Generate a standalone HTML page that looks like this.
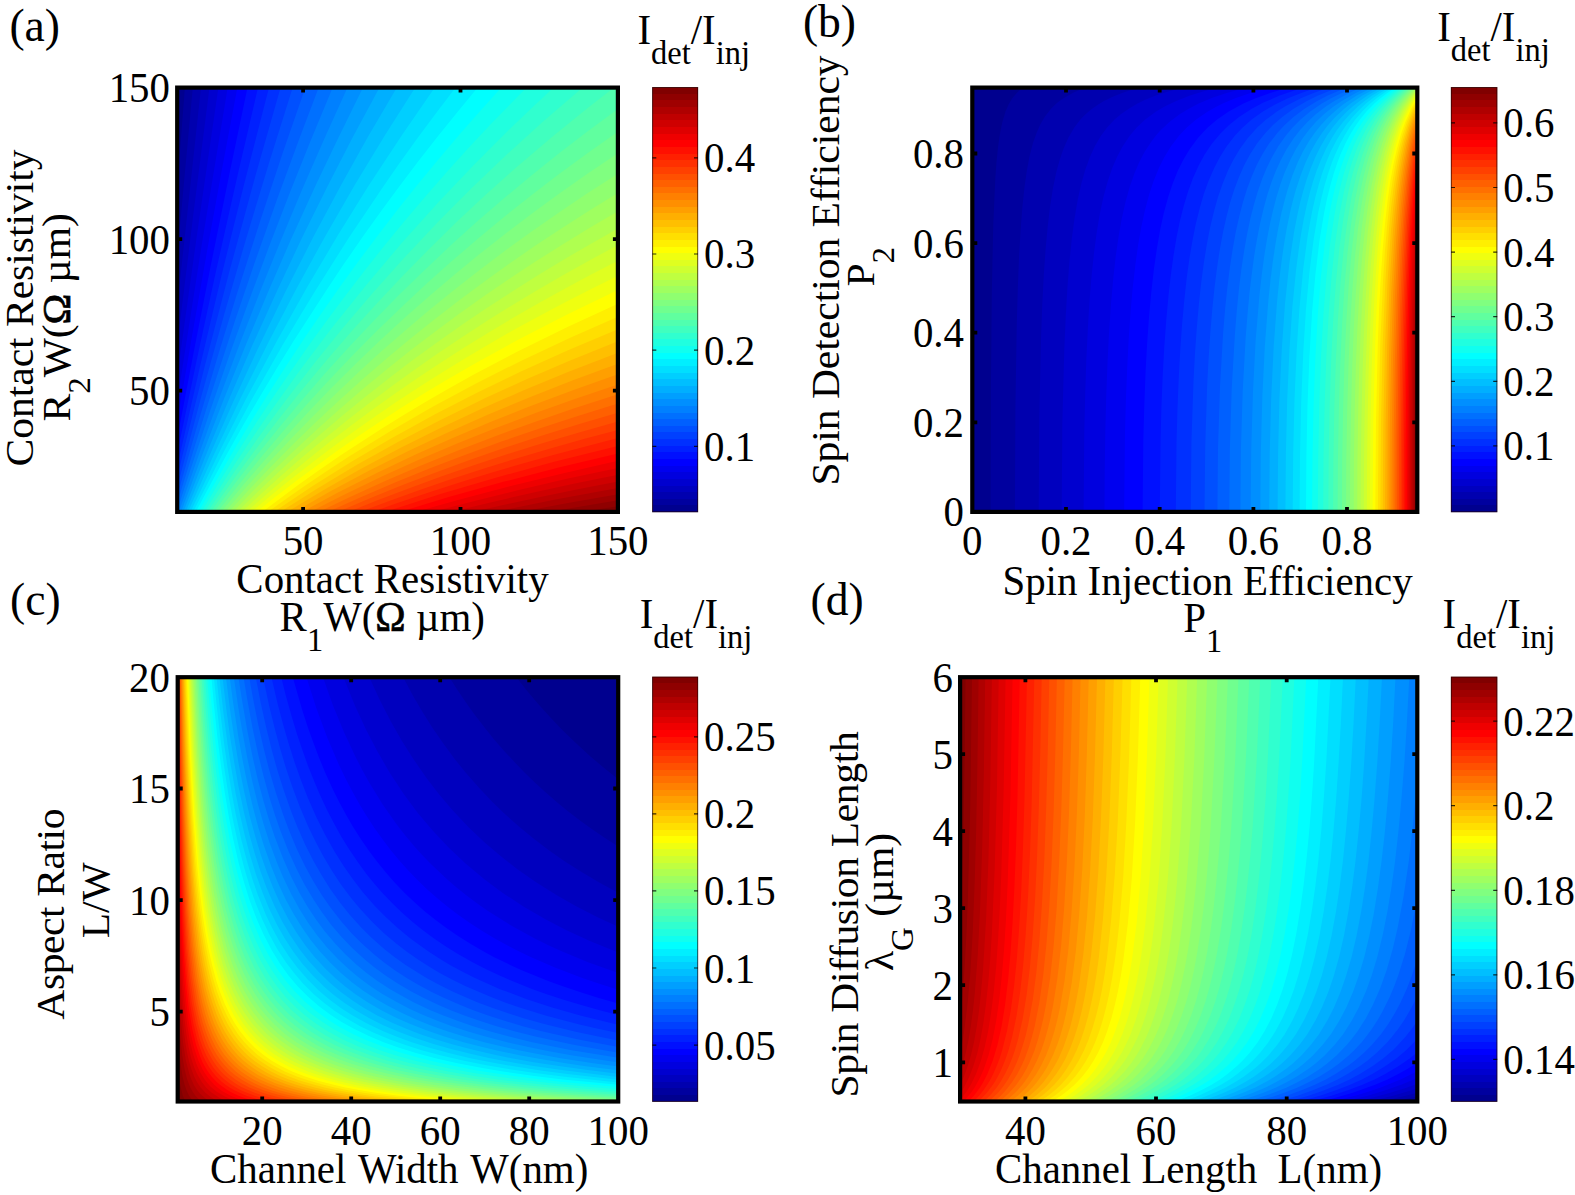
<!DOCTYPE html>
<html><head><meta charset="utf-8"><title>Figure</title>
<style>html,body{margin:0;padding:0;background:#fff}svg{display:block;font-family:"Liberation Serif","DejaVu Serif",serif}</style>
</head><body>
<svg width="1575" height="1195" viewBox="0 0 1575 1195" fill="#000">
<rect width="1575" height="1195" fill="#fff"/>
<defs><linearGradient id="jet" x1="0" y1="0" x2="0" y2="1"><stop offset="0.00000" stop-color="#800000"/><stop offset="0.01562" stop-color="#800000"/><stop offset="0.01562" stop-color="#8f0000"/><stop offset="0.03125" stop-color="#8f0000"/><stop offset="0.03125" stop-color="#9f0000"/><stop offset="0.04688" stop-color="#9f0000"/><stop offset="0.04688" stop-color="#af0000"/><stop offset="0.06250" stop-color="#af0000"/><stop offset="0.06250" stop-color="#bf0000"/><stop offset="0.07812" stop-color="#bf0000"/><stop offset="0.07812" stop-color="#cf0000"/><stop offset="0.09375" stop-color="#cf0000"/><stop offset="0.09375" stop-color="#df0000"/><stop offset="0.10938" stop-color="#df0000"/><stop offset="0.10938" stop-color="#ef0000"/><stop offset="0.12500" stop-color="#ef0000"/><stop offset="0.12500" stop-color="#ff0000"/><stop offset="0.14062" stop-color="#ff0000"/><stop offset="0.14062" stop-color="#ff1000"/><stop offset="0.15625" stop-color="#ff1000"/><stop offset="0.15625" stop-color="#ff2000"/><stop offset="0.17188" stop-color="#ff2000"/><stop offset="0.17188" stop-color="#ff3000"/><stop offset="0.18750" stop-color="#ff3000"/><stop offset="0.18750" stop-color="#ff4000"/><stop offset="0.20312" stop-color="#ff4000"/><stop offset="0.20312" stop-color="#ff5000"/><stop offset="0.21875" stop-color="#ff5000"/><stop offset="0.21875" stop-color="#ff6000"/><stop offset="0.23438" stop-color="#ff6000"/><stop offset="0.23438" stop-color="#ff7000"/><stop offset="0.25000" stop-color="#ff7000"/><stop offset="0.25000" stop-color="#ff8000"/><stop offset="0.26562" stop-color="#ff8000"/><stop offset="0.26562" stop-color="#ff8f00"/><stop offset="0.28125" stop-color="#ff8f00"/><stop offset="0.28125" stop-color="#ff9f00"/><stop offset="0.29688" stop-color="#ff9f00"/><stop offset="0.29688" stop-color="#ffaf00"/><stop offset="0.31250" stop-color="#ffaf00"/><stop offset="0.31250" stop-color="#ffbf00"/><stop offset="0.32812" stop-color="#ffbf00"/><stop offset="0.32812" stop-color="#ffcf00"/><stop offset="0.34375" stop-color="#ffcf00"/><stop offset="0.34375" stop-color="#ffdf00"/><stop offset="0.35938" stop-color="#ffdf00"/><stop offset="0.35938" stop-color="#ffef00"/><stop offset="0.37500" stop-color="#ffef00"/><stop offset="0.37500" stop-color="#ffff00"/><stop offset="0.39062" stop-color="#ffff00"/><stop offset="0.39062" stop-color="#efff10"/><stop offset="0.40625" stop-color="#efff10"/><stop offset="0.40625" stop-color="#dfff20"/><stop offset="0.42188" stop-color="#dfff20"/><stop offset="0.42188" stop-color="#cfff30"/><stop offset="0.43750" stop-color="#cfff30"/><stop offset="0.43750" stop-color="#bfff40"/><stop offset="0.45312" stop-color="#bfff40"/><stop offset="0.45312" stop-color="#afff50"/><stop offset="0.46875" stop-color="#afff50"/><stop offset="0.46875" stop-color="#9fff60"/><stop offset="0.48438" stop-color="#9fff60"/><stop offset="0.48438" stop-color="#8fff70"/><stop offset="0.50000" stop-color="#8fff70"/><stop offset="0.50000" stop-color="#80ff80"/><stop offset="0.51562" stop-color="#80ff80"/><stop offset="0.51562" stop-color="#70ff8f"/><stop offset="0.53125" stop-color="#70ff8f"/><stop offset="0.53125" stop-color="#60ff9f"/><stop offset="0.54688" stop-color="#60ff9f"/><stop offset="0.54688" stop-color="#50ffaf"/><stop offset="0.56250" stop-color="#50ffaf"/><stop offset="0.56250" stop-color="#40ffbf"/><stop offset="0.57812" stop-color="#40ffbf"/><stop offset="0.57812" stop-color="#30ffcf"/><stop offset="0.59375" stop-color="#30ffcf"/><stop offset="0.59375" stop-color="#20ffdf"/><stop offset="0.60938" stop-color="#20ffdf"/><stop offset="0.60938" stop-color="#10ffef"/><stop offset="0.62500" stop-color="#10ffef"/><stop offset="0.62500" stop-color="#00ffff"/><stop offset="0.64062" stop-color="#00ffff"/><stop offset="0.64062" stop-color="#00efff"/><stop offset="0.65625" stop-color="#00efff"/><stop offset="0.65625" stop-color="#00dfff"/><stop offset="0.67188" stop-color="#00dfff"/><stop offset="0.67188" stop-color="#00cfff"/><stop offset="0.68750" stop-color="#00cfff"/><stop offset="0.68750" stop-color="#00bfff"/><stop offset="0.70312" stop-color="#00bfff"/><stop offset="0.70312" stop-color="#00afff"/><stop offset="0.71875" stop-color="#00afff"/><stop offset="0.71875" stop-color="#009fff"/><stop offset="0.73438" stop-color="#009fff"/><stop offset="0.73438" stop-color="#008fff"/><stop offset="0.75000" stop-color="#008fff"/><stop offset="0.75000" stop-color="#0080ff"/><stop offset="0.76562" stop-color="#0080ff"/><stop offset="0.76562" stop-color="#0070ff"/><stop offset="0.78125" stop-color="#0070ff"/><stop offset="0.78125" stop-color="#0060ff"/><stop offset="0.79688" stop-color="#0060ff"/><stop offset="0.79688" stop-color="#0050ff"/><stop offset="0.81250" stop-color="#0050ff"/><stop offset="0.81250" stop-color="#0040ff"/><stop offset="0.82812" stop-color="#0040ff"/><stop offset="0.82812" stop-color="#0030ff"/><stop offset="0.84375" stop-color="#0030ff"/><stop offset="0.84375" stop-color="#0020ff"/><stop offset="0.85938" stop-color="#0020ff"/><stop offset="0.85938" stop-color="#0010ff"/><stop offset="0.87500" stop-color="#0010ff"/><stop offset="0.87500" stop-color="#0000ff"/><stop offset="0.89062" stop-color="#0000ff"/><stop offset="0.89062" stop-color="#0000ef"/><stop offset="0.90625" stop-color="#0000ef"/><stop offset="0.90625" stop-color="#0000df"/><stop offset="0.92188" stop-color="#0000df"/><stop offset="0.92188" stop-color="#0000cf"/><stop offset="0.93750" stop-color="#0000cf"/><stop offset="0.93750" stop-color="#0000bf"/><stop offset="0.95312" stop-color="#0000bf"/><stop offset="0.95312" stop-color="#0000af"/><stop offset="0.96875" stop-color="#0000af"/><stop offset="0.96875" stop-color="#00009f"/><stop offset="0.98438" stop-color="#00009f"/><stop offset="0.98438" stop-color="#00008f"/><stop offset="1.00000" stop-color="#00008f"/></linearGradient></defs>
<rect x="177.2" y="87.6" width="440.7" height="424.3" fill="#00008f"/>
<path fill="#00009f" d="M177.2 511.9l440.7 0 0 -424.3 -433 0 -7.7 99.5 0 324.8z"/>
<path fill="#0000af" d="M177.2 511.9l440.7 0 0 -424.3 -425.1 0 -15.6 168.3 0 256z"/>
<path fill="#0000bf" d="M177.2 511.9l440.7 0 0 -424.3 -416.9 0 -23.8 218.9 0 205.4z"/>
<path fill="#0000cf" d="M177.2 511.9l440.7 0 0 -424.3 -408.4 0 -15.7 123.2 -16.6 134.5 0 166.6z"/>
<path fill="#0000df" d="M177.2 511.9l440.7 0 0 -424.3 -399.5 0 -21.8 149.9 -19.4 138.5 0 135.9z"/>
<path fill="#0000ef" d="M177.2 511.9l440.7 0 0 -424.3 -390.2 0 -25.6 154.8 -24.9 158.5 0 111z"/>
<path fill="#0000ff" d="M177.2 511.9l440.7 0 0 -424.3 -380.5 0 -15.9 84.2 -13.8 75.8 -16.6 93.6 -13.9 80.3 0 90.4z"/>
<path fill="#0010ff" d="M177.2 511.9l440.7 0 0 -424.3 -370.4 0 -17.6 83.8 -19.4 95.4 -16.7 84.7 -16.6 87.3 0 73.1z"/>
<path fill="#0020ff" d="M177.2 511.9l440.7 0 0 -424.3 -359.9 0 -19.8 84.8 -22.2 98.6 -19.4 89.6 -19.4 93 0 58.3z"/>
<path fill="#0030ff" d="M177.2 511.9l440.7 0 0 -424.3 -348.9 0 -25.3 98.1 -22.2 89.7 -22.1 93.5 -22.2 97.5 0 45.5z"/>
<path fill="#0040ff" d="M177.2 511.9l440.7 0 0 -424.3 -337.3 0 -25.8 90.4 -24.9 91.6 -25 95.9 -22.2 89.1 -5.5 22.9 0 34.4z"/>
<path fill="#0050ff" d="M177.2 511.9l440.7 0 0 -424.3 -325.2 0 -24 76.4 -22.2 73.4 -22.2 76.5 -22.2 79.6 -24.9 93.8 0 24.6z"/>
<path fill="#0060ff" d="M177.2 511.9l440.7 0 0 -424.3 -312.5 0 -22.9 66 -22.1 66.7 -22.2 69.4 -19.4 63.1 -22.2 74.9 -19.4 68.2 0 16z"/>
<path fill="#0070ff" d="M177.2 511.9l440.7 0 0 -424.3 -299.2 0 -19.5 51.4 -22.2 60.4 -22.2 62.9 -19.4 57.1 -27.7 85.2 -25 80.6 -5.5 18.4 0 8.3z"/>
<path fill="#0080ff" d="M177.2 511.9l440.7 0 0 -424.3 -285.2 0 -22.5 54.2 -19.4 48.4 -22.1 57.4 -19.4 52.2 -19.4 54 -19.4 55.9 -22.2 66.5 -11.1 34.4 0 1.3z"/>
<path fill="#008fff" d="M178.9 511.9l439 0 0 -424.3 -270.4 0 -23.4 51.6 -22.2 50.8 -22.1 52.9 -19.4 47.9 -22.2 56.9 -19.4 51.8 -19.4 53.6 -20.5 58.8z"/>
<path fill="#009fff" d="M181.1 511.9l436.8 0 0 -424.3 -254.9 0 -25 50.8 -22.2 46.7 -25 54.7 -22.1 50.7 -22.2 52.7 -22.2 54.9 -22.2 57.1 -21 56.7z"/>
<path fill="#00afff" d="M183.3 511.9l434.6 0 0 -424.3 -238.4 0 -27.7 51.5 -24.9 48.4 -25 50.6 -24.9 52.8 -25 55.2 -22.1 51.2 -25 60.1 -21.6 54.5z"/>
<path fill="#00bfff" d="M185.6 511.9l432.3 0 0 -424.3 -221 0 -28.5 48.5 -27.7 49.6 -27.7 51.9 -27.7 54.5 -27.7 57.2 -25 53.9 -24.9 56.5 -22.1 52.2z"/>
<path fill="#00cfff" d="M188 511.9l429.9 0 0 -424.3 -202.6 0 -30.2 47.4 -30.5 50.3 -30.5 52.9 -27.7 50.5 -27.7 53 -27.8 55.7 -27.7 58.5 -25.2 56z"/>
<path fill="#00dfff" d="M190.5 511.9l427.4 0 0 -424.3 -183.1 0 -33.1 47.8 -33.3 50.7 -30.4 48.9 -30.5 51.5 -30.5 54.3 -30.5 57.2 -27.7 54.9 -28.3 59z"/>
<path fill="#00efff" d="M193.1 511.9l424.8 0 0 -424.3 -162.3 0 -17.9 23.4 -19.4 26.1 -19.4 27 -16.6 23.8 -33.3 49.6 -33.2 52.4 -16.6 27.3 -16.7 28.1 -30.5 53.8 -30.5 56.8 -28.4 56z"/>
<path fill="#00ffff" d="M195.8 511.9l422.1 0 0 -424.3 -140.2 0 -20.6 24.8 -19.4 24.1 -19.4 24.8 -19.4 25.6 -16.6 22.6 -19.4 27.1 -19.4 28 -16.6 24.8 -33.3 51.6 -16.6 27 -16.6 27.7 -16.7 28.6 -16.6 29.5 -16.6 30.4 -14.7 27.7z"/>
<path fill="#10ffef" d="M198.5 511.9l419.4 0 0 -424.3 -116.6 0 -22 24.3 -19.4 22.1 -22.2 26.2 -19.4 23.6 -19.4 24.3 -19.4 25.1 -19.4 25.9 -19.4 26.7 -19.4 27.6 -16.6 24.4 -19.4 29.4 -16.6 26 -16.7 26.8 -19.4 32.3 -16.6 28.6 -17.5 31z"/>
<path fill="#20ffdf" d="M201.4 511.9l416.5 0 0 -424.3 -91.4 0 -13.9 14.1 -22.2 22.9 -22.2 23.7 -19.4 21.4 -22.1 25.3 -19.4 22.8 -22.2 27 -19.4 24.4 -19.4 25.2 -19.4 26.1 -19.4 26.8 -19.4 27.9 -16.7 24.6 -16.6 25.3 -19.4 30.5 -16.6 27.1 -17.4 29.2z"/>
<path fill="#30ffcf" d="M204.4 511.9l413.5 0 0 -424.3 -64.3 0 -21.6 20.1 -19.4 18.5 -38.8 38.7 -36.1 38 -36 40.2 -36 42.6 -33.3 41.6 -33.2 44 -33.3 46.6 -30.5 45.3 -31 48.7z"/>
<path fill="#40ffbf" d="M207.5 511.9l410.4 0 0 -424.3 -35.2 0 -39.6 34 -36.1 32.7 -36 34.5 -33.3 33.5 -33.2 35.3 -30.5 34 -30.5 35.7 -27.7 34.1 -27.7 35.8 -27.7 37.6 -25 35.4 -27.9 41.7z"/>
<path fill="#50ffaf" d="M210.7 511.9l407.2 0 0 -424.3 -3.8 0 -23.9 18.5 -38.8 31.4 -36.1 30.8 -30.4 27.3 -27.8 26 -27.7 27.1 -27.7 28.3 -24.9 26.5 -25 27.6 -24.9 28.8 -25 30.1 -22.1 27.8 -25 32.6 -22.2 30.3 -21.9 31.2z"/>
<path fill="#60ff9f" d="M214 511.9l403.9 0 0 -403 -30.5 22.5 -27.7 21.4 -27.7 22.2 -27.7 23.1 -27.8 24 -24.9 22.5 -27.7 26.1 -25 24.4 -24.9 25.5 -25 26.4 -24.9 27.6 -22.2 25.6 -22.1 26.5 -22.2 27.6 -22.2 28.7 -21.4 28.9z"/>
<path fill="#70ff8f" d="M217.5 511.9l400.4 0 0 -380.2 -30.5 21.6 -27.7 20.3 -27.7 21.2 -27.7 22 -25 20.7 -27.7 23.8 -24.9 22.3 -25 23.3 -24.9 24.1 -25 25.2 -24.9 26.2 -22.2 24.3 -22.2 25.2 -22.1 26.2 -22.2 27.3 -20.7 26.5z"/>
<path fill="#80ff80" d="M221.1 511.9l396.8 0 0 -358.6 -30.5 20.5 -27.7 19.5 -25 18.2 -27.7 20.9 -27.7 21.9 -24.9 20.4 -25 21.3 -24.9 22.1 -25 22.9 -22.1 21.3 -25 24.8 -22.2 22.9 -22.1 23.9 -25 28 -19.4 22.6 -22.6 27.4z"/>
<path fill="#8fff70" d="M224.9 511.9l393 0 0 -338.2 -30.5 19.6 -27.7 18.6 -27.7 19.3 -25 18.1 -27.7 20.9 -24.9 19.5 -25 20.3 -22.1 18.7 -25 21.9 -22.2 20.2 -24.9 23.6 -22.2 21.8 -22.2 22.7 -22.1 23.6 -22.2 24.5 -21.6 24.9z"/>
<path fill="#9fff60" d="M228.8 511.9l389.1 0 0 -318.9 -27.7 17 -27.7 17.7 -27.8 18.4 -24.9 17.2 -24.9 17.9 -25 18.5 -24.9 19.2 -25 20 -22.2 18.5 -24.9 21.5 -24.9 22.5 -22.2 20.8 -22.2 21.6 -22.2 22.4 -22.1 23.3 -20.5 22.4z"/>
<path fill="#afff50" d="M233 511.9l384.9 0 0 -300.7 -27.7 16.3 -27.7 17 -27.8 17.6 -24.9 16.4 -24.9 17.1 -25 17.7 -24.9 18.4 -25 19.1 -22.2 17.7 -24.9 20.6 -22.2 19.1 -22.1 19.8 -22.2 20.5 -22.2 21.3 -22.2 22.3 -19 19.8z"/>
<path fill="#bfff40" d="M237.3 511.9l380.6 0 0 -283.3 -27.7 15.6 -25 14.5 -27.7 16.8 -24.9 15.7 -25 16.3 -24.9 16.8 -25 17.6 -24.9 18.2 -22.2 16.8 -24.9 19.7 -22.2 18.1 -22.2 18.8 -22.1 19.6 -22.2 20.3 -19.4 18.5 -20.3 20z"/>
<path fill="#cfff30" d="M241.8 511.9l376.1 0 0 -266.8 -27.7 14.9 -27.7 15.5 -25 14.5 -24.9 15 -25 15.6 -24.9 16.1 -25 16.8 -22.1 15.5 -22.2 16 -25 18.7 -22.1 17.3 -22.2 17.9 -22.2 18.7 -19.4 16.9 -19.4 17.4 -21.3 20z"/>
<path fill="#dfff20" d="M246.5 511.9l371.4 0 0 -251.1 -27.7 14.3 -25 13.3 -24.9 13.8 -25 14.3 -24.9 14.9 -24.9 15.4 -22.2 14.2 -25 16.5 -22.1 15.3 -22.2 15.8 -22.2 16.4 -22.2 17 -22.1 17.7 -19.4 16 -22.2 19 -19.4 17.2z"/>
<path fill="#efff10" d="M251.5 511.9l366.4 0 0 -236.1 -27.7 13.7 -25 12.7 -24.9 13.2 -25 13.7 -22.1 12.6 -25 14.7 -24.9 15.3 -22.2 14 -24.9 16.4 -22.2 15.2 -22.2 15.7 -19.4 14.2 -19.4 14.7 -22.2 17.4 -19.4 15.8 -19.9 16.8z"/>
<path fill="#ffff00" d="M256.7 511.9l361.2 0 0 -221.8 -24.9 11.8 -27.8 13.5 -47.1 24.3 -47.1 26 -24.9 14.5 -22.2 13.4 -22.2 13.9 -22.2 14.4 -22.1 14.9 -22.2 15.4 -38.8 28.5 -22.2 17.1 -17.5 14.1z"/>
<path fill="#ffef00" d="M262.2 511.9l355.7 0 0 -208.2 -49.9 23 -49.9 24.5 -44.3 23.4 -25 13.9 -22.1 12.8 -22.2 13.2 -22.2 13.7 -41.6 27 -22.1 15.3 -19.4 13.8 -37 27.6z"/>
<path fill="#ffdf00" d="M267.9 511.9l350 0 0 -195.1 -47.1 20.7 -49.9 23.4 -44.4 22.3 -44.3 23.9 -41.6 23.9 -41.6 25.6 -22.1 14.3 -19.4 13.1 -19.4 13.4 -20.2 14.5z"/>
<path fill="#ffcf00" d="M274 511.9l343.9 0 0 -182.6 -49.9 21 -47.1 21.2 -44.4 21.4 -41.5 21.4 -44.4 24.4 -38.8 22.8 -38.8 24.3 -39 26.1z"/>
<path fill="#ffbf00" d="M280.4 511.9l337.5 0 0 -170.7 -47.1 19 -44.4 19.1 -41.5 18.9 -44.4 21.7 -41.6 21.6 -41.5 23.1 -41.6 24.8 -35.4 22.5z"/>
<path fill="#ffaf00" d="M287.2 511.9l330.7 0 0 -159.2 -49.9 19.3 -44.3 18.3 -41.6 18.3 -41.6 19.4 -38.8 19.3 -38.8 20.5 -38.8 21.9 -36.9 22.2z"/>
<path fill="#ff9f00" d="M294.4 511.9l323.5 0 0 -148.2 -44.3 16.4 -44.4 17.4 -41.6 17.3 -41.5 18.5 -38.8 18.3 -38.9 19.5 -38.8 20.7 -35.2 20.1z"/>
<path fill="#ff8f00" d="M302.1 511.9l315.8 0 0 -137.6 -44.3 15.6 -41.6 15.6 -41.6 16.6 -38.8 16.4 -36 16.1 -38.8 18.4 -38.8 19.6 -35.9 19.3z"/>
<path fill="#ff8000" d="M310.2 511.9l307.7 0 0 -127.4 -41.6 14 -38.8 13.8 -41.6 15.7 -38.8 15.6 -38.8 16.5 -36 16.2 -38.8 18.6 -33.3 17z"/>
<path fill="#ff7000" d="M318.9 511.9l299 0 0 -117.7 -44.3 14.4 -38.9 13.3 -38.8 14 -36 13.8 -38.8 15.8 -36 15.4 -36.1 16.5 -30.1 14.5z"/>
<path fill="#ff6000" d="M328.1 511.9l289.8 0 0 -108.3 -41.6 12.9 -36 11.7 -38.8 13.4 -36 13.1 -36.1 13.8 -33.2 13.5 -36.1 15.4 -32 14.5z"/>
<path fill="#ff5000" d="M338 511.9l279.9 0 0 -99.2 -36 10.6 -38.8 12 -36.1 11.8 -36 12.4 -36 13.2 -30.5 11.6 -33.3 13.4 -33.2 14.2z"/>
<path fill="#ff4000" d="M348.6 511.9l269.3 0 0 -90.4 -38.8 10.9 -36 10.7 -36.1 11.2 -33.2 11 -33.3 11.5 -33.2 12.1 -30.5 11.7 -28.2 11.3z"/>
<path fill="#ff3000" d="M360 511.9l257.9 0 0 -82 -33.3 8.9 -36 10.2 -30.5 9 -33.2 10.2 -33.3 10.9 -30.5 10.4 -30.5 10.9 -30.6 11.5z"/>
<path fill="#ff2000" d="M372.3 511.9l245.6 0 0 -73.9 -63.7 16.7 -30.5 8.5 -33.3 9.8 -27.7 8.5 -33.3 10.7 -30.5 10.3 -26.6 9.4z"/>
<path fill="#ff1000" d="M385.5 511.9l232.4 0 0 -66 -63.7 15.9 -58.3 15.9 -55.4 16.4 -55 17.8z"/>
<path fill="#ff0000" d="M399.9 511.9l218 0 0 -58.4 -58.2 13.8 -55.4 14.3 -55.5 15.5 -48.9 14.8z"/>
<path fill="#ef0000" d="M415.6 511.9l202.3 0 0 -51.1 -55.4 12.6 -52.7 12.8 -49.9 13.2 -44.3 12.5z"/>
<path fill="#df0000" d="M432.7 511.9l185.2 0 0 -44 -49.9 10.7 -47.1 10.9 -44.4 10.9 -43.8 11.5z"/>
<path fill="#cf0000" d="M451.5 511.9l166.4 0 0 -37.1 -44.3 9 -38.9 8.4 -44.3 10.2 -38.9 9.5z"/>
<path fill="#bf0000" d="M472.2 511.9l145.7 0 0 -30.4 -38.8 7.5 -38.8 7.9 -68.1 15z"/>
<path fill="#af0000" d="M495 511.9l122.9 0 0 -24 -63.7 11.9 -59.2 12.1z"/>
<path fill="#9f0000" d="M520.5 511.9l97.4 0 0 -17.7 -49.9 8.8 -47.5 8.9z"/>
<path fill="#8f0000" d="M549.1 511.9l68.8 0 0 -11.6 -68.8 11.6z"/>
<path fill="#800000" d="M581.2 511.9l36.7 0 0 -5.7 -36.7 5.7z"/>
<path d="M303.1 511.9v-5 M303.1 87.6v5M460.5 511.9v-5 M460.5 87.6v5M177.2 390.7h5 M617.9 390.7h-5M177.2 239.1h5 M617.9 239.1h-5" stroke="#000" stroke-width="3.8" fill="none"/>
<rect x="177.2" y="87.6" width="440.7" height="424.3" fill="none" stroke="#000" stroke-width="4.2"/>
<text x="303.1" y="547" font-size="40.9" text-anchor="middle" transform="scale(1 1.015)">50</text>
<text x="460.5" y="547" font-size="40.9" text-anchor="middle" transform="scale(1 1.015)">100</text>
<text x="617.9" y="547" font-size="40.9" text-anchor="middle" transform="scale(1 1.015)">150</text>
<text x="170" y="399.2" font-size="40.9" text-anchor="end" transform="scale(1 1.015)">50</text>
<text x="170" y="249.9" font-size="40.9" text-anchor="end" transform="scale(1 1.015)">100</text>
<text x="170" y="100.6" font-size="40.9" text-anchor="end" transform="scale(1 1.015)">150</text>
<rect x="652.3" y="87.2" width="45.7" height="424.9" fill="url(#jet)"/>
<rect x="652.6" y="87.5" width="45.1" height="424.3" fill="none" stroke="#200" stroke-opacity=".7" stroke-width="1"/>
<path d="M652.3 446.3h4 M698 446.3h-4M652.3 350.1h4 M698 350.1h-4M652.3 254h4 M698 254h-4M652.3 157.8h4 M698 157.8h-4" stroke="#000" stroke-opacity=".8" stroke-width="1.2" fill="none"/>
<text x="704.1" y="454" font-size="40.9" text-anchor="start" transform="scale(1 1.015)">0.1</text>
<text x="704.1" y="359.3" font-size="40.9" text-anchor="start" transform="scale(1 1.015)">0.2</text>
<text x="704.1" y="264.5" font-size="40.9" text-anchor="start" transform="scale(1 1.015)">0.3</text>
<text x="704.1" y="169.7" font-size="40.9" text-anchor="start" transform="scale(1 1.015)">0.4</text>
<rect x="972.3" y="87.6" width="445" height="424.3" fill="#00008f"/>
<path fill="#00009f" d="M990.6 511.9l426.7 0 0 -424.3 -394.2 0 -3.5 2.7 -2.9 2.6 -4.4 5.4 -3.6 6 -3.2 7.3 -3.2 10.7 -2.2 10.7 -2 13.3 -1.6 16 -1.2 16 -2.1 48.1 -1.4 66.7 -0.9 96 -0.3 122.8z"/>
<path fill="#0000af" d="M1014.9 511.9l402.4 0 0 -424.3 -331.3 0 -7.2 2.7 -5.7 2.5 -8.4 4.6 -5.2 3.5 -3.2 2.7 -5.5 5.3 -6.2 8.1 -4.6 8 -3.5 8 -3.7 10.6 -3.4 13.4 -2.5 13.3 -2.3 16 -2.3 21.4 -1.6 21.3 -1.6 26.7 -1.3 32 -1 34.7 -1.4 85.4 -0.5 104.1z"/>
<path fill="#0000bf" d="M1038.7 511.9l378.6 0 0 -424.3 -277.7 0 -9.5 2.7 -8.1 2.6 -9.8 4 -8.2 4 -5.8 3.5 -6.5 4.5 -6.2 5.4 -5.1 5.3 -6.1 8 -6.2 10.7 -4.7 10.7 -3.7 10.7 -3.6 13.3 -3.3 16 -2.9 18.7 -2.2 18.7 -2 21.3 -1.9 26.7 -1.5 29.4 -1.3 34.6 -1.7 80.1 -0.6 93.4z"/>
<path fill="#0000cf" d="M1061.7 511.9l355.6 0 0 -424.3 -234.1 0 -15 4 -12.4 4 -10 4 -8.3 4 -9.2 5.3 -7.5 5.4 -6.2 5.3 -7.5 8 -6 8 -6.3 10.7 -4.9 10.7 -4.8 13.3 -3.8 13.4 -3.6 16 -3.2 18.7 -2.5 18.6 -2.5 24.1 -2.1 26.6 -1.7 29.4 -1.4 32 -2 74.7 -0.6 88.1z"/>
<path fill="#0000df" d="M1083.6 511.9l333.7 0 0 -424.3 -199.1 0 -13.6 3.5 -14.6 4.5 -13.8 5.3 -11.1 5.4 -9 5.3 -10.9 8 -8.5 8 -6.8 8 -7.2 10.7 -5.7 10.7 -4.6 10.7 -4.6 13.3 -4.4 16 -3.4 16 -3.2 18.7 -2.5 18.7 -2.6 24 -2 24 -1.8 29.4 -1.6 32 -1.1 34.7 -0.9 37.3 -0.7 80.1z"/>
<path fill="#0000ef" d="M1104.5 511.9l312.8 0 0 -424.3 -170.9 0 -19.7 5.3 -13.7 4.7 -14.4 6 -10.3 5.3 -8.7 5.4 -10.5 8 -8.5 8 -4.7 5.3 -4.1 5.4 -7 10.6 -5.6 10.7 -4.6 10.7 -4.7 13.3 -4.5 16 -3.6 16.1 -3.3 18.6 -2.7 18.7 -2.4 21.4 -2.4 26.7 -2 29.3 -1.5 29.4 -1.3 34.7 -0.9 34.6 -0.6 40.1 -0.2 40z"/>
<path fill="#0000ff" d="M1124.2 511.9l293.1 0 0 -424.3 -148 0 -18.9 5.3 -15.2 5.4 -12.5 5.3 -6.9 3.5 -8 4.5 -11.7 8 -9.3 8 -7.6 8 -8.2 10.7 -6.6 10.7 -5.4 10.7 -5.4 13.3 -4.4 13.3 -4.3 16.1 -3.5 16 -3.3 18.6 -2.6 18.7 -2.8 24 -2.1 24.1 -1.9 26.6 -1.5 29.4 -1.4 34.7 -0.9 34.7 -0.7 74.7z"/>
<path fill="#0010ff" d="M1142.6 511.9l274.7 0 0 -424.3 -129.1 0 -18 5.3 -14.6 5.4 -12.2 5.3 -14.7 8 -11.6 8 -9.4 8 -5.3 5.4 -4.7 5.3 -7.9 10.7 -6.5 10.7 -5.3 10.6 -5.4 13.4 -4.4 13.3 -4.4 16 -3.5 16 -3.3 18.7 -3.1 21.4 -2.7 24 -2.2 24 -1.9 26.7 -1.6 29.3 -1.2 32.1 -1 34.6 -0.7 72.1z"/>
<path fill="#0020ff" d="M1159.8 511.9l257.5 0 0 -424.3 -113.4 0 -8.9 2.7 -15.4 5.3 -16.2 7 -12.1 6.3 -12.3 8.1 -9.9 8 -8.2 8 -8.9 10.6 -7.2 10.7 -5.9 10.7 -6 13.3 -4.9 13.4 -4 13.3 -4.1 16 -3.3 16 -3.1 18.7 -2.6 18.7 -2.4 21.3 -2.2 24.1 -2 26.6 -1.6 29.4 -1.3 32 -0.8 32 -0.8 72.1z"/>
<path fill="#0030ff" d="M1175.8 511.9l241.5 0 0 -424.3 -100 0 -16.1 5.3 -13.3 5.4 -13.3 6.4 -11.7 6.9 -11.2 8 -9.1 8 -7.6 8 -8.3 10.7 -6.8 10.7 -5.6 10.7 -5.8 13.3 -4.8 13.3 -3.9 13.4 -4 16 -3.2 16 -3.2 18.7 -2.6 18.7 -2.6 24 -2.2 24 -1.7 24 -1.6 29.4 -1.3 32 -0.9 32 -0.7 69.4z"/>
<path fill="#0040ff" d="M1190.7 511.9l226.6 0 0 -424.3 -88.7 0 -15.1 5.3 -12.6 5.4 -15.5 8 -8.5 5.3 -10.8 8 -8.9 8 -9.6 10.7 -7.8 10.7 -6.4 10.7 -5.3 10.6 -5.5 13.4 -4.6 13.3 -3.8 13.4 -3.9 16 -3.6 18.6 -3 18.7 -2.5 18.7 -2.3 21.4 -2.1 24 -1.9 26.7 -1.4 26.6 -2.1 61.4 -0.7 69.4z"/>
<path fill="#0050ff" d="M1204.5 511.9l212.8 0 0 -424.3 -78.8 0 -7.5 2.7 -13 5.3 -11.1 5.3 -13.7 8 -11 8.1 -9.2 8 -7.6 8 -8.4 10.6 -6.9 10.7 -5.8 10.7 -4.8 10.7 -5.1 13.3 -4.2 13.3 -3.5 13.4 -3.6 16 -3 16 -2.9 18.7 -2.7 21.3 -2.2 21.4 -2 24 -1.8 26.7 -1.4 26.7 -1.9 61.4 -0.7 64z"/>
<path fill="#0060ff" d="M1217.4 511.9l199.9 0 0 -424.3 -70.3 0 -7 2.7 -12.3 5.3 -10.5 5.3 -13.1 8 -10.6 8.1 -8.8 8 -7.4 8 -8.2 10.6 -6.7 10.7 -5.7 10.7 -4.7 10.7 -5 13.3 -4.1 13.3 -3.5 13.4 -3.6 16 -2.9 16 -2.9 18.7 -2.7 21.3 -2.2 21.4 -2 24 -3.1 53.4 -2 61.4 -0.6 64z"/>
<path fill="#0070ff" d="M1229.3 511.9l188 0 0 -424.3 -62.8 0 -12.6 5.3 -10.8 5.4 -9.3 5.3 -11.6 8 -9.6 8 -8 8 -6.7 8 -7.6 10.7 -6.2 10.7 -5.3 10.7 -4.4 10.6 -4.7 13.4 -3.9 13.3 -3.4 13.4 -3.4 16 -2.8 16 -2.8 18.7 -2.6 21.3 -2.1 21.4 -1.9 24 -3.1 53.3 -1.8 58.8 -0.6 64z"/>
<path fill="#0080ff" d="M1240.4 511.9l176.9 0 0 -424.3 -56.1 0 -12 5.3 -14.8 8 -8.2 5.4 -10.4 8 -8.6 8 -7.3 8 -6.2 8 -7 10.7 -5.7 10.7 -4.9 10.6 -4.2 10.7 -4.4 13.3 -3.7 13.4 -3.8 16 -3.1 16 -2.7 16 -2.5 18.7 -2.2 18.7 -2 21.3 -1.9 24 -2.9 53.4 -1.8 58.7 -0.5 61.4z"/>
<path fill="#008fff" d="M1250.7 511.9l166.6 0 0 -424.3 -50.2 0 -11.3 5.3 -14.1 8 -7.8 5.4 -10 8 -8.3 8 -6.9 8 -6 8 -6.7 10.7 -5.6 10.7 -5.9 13.3 -3.9 10.7 -4.1 13.3 -3.5 13.4 -3 13.3 -3.1 16 -2.6 16 -2.5 18.7 -2.4 21.3 -3.8 45.4 -2.6 50.7 -1.8 58.7 -0.5 61.4z"/>
<path fill="#009fff" d="M1260.3 511.9l157 0 0 -424.3 -44.9 0 -15.6 8 -12.4 8 -7 5.3 -8.9 8.1 -7.5 8 -6.4 8 -5.5 8 -6.1 10.6 -5.2 10.7 -5.5 13.4 -4.5 13.3 -3 10.7 -3.4 13.3 -3.3 16 -2.8 16 -2.4 16.1 -2.4 18.6 -2.2 21.4 -3.5 45.3 -2.5 50.8 -1.5 56 -0.5 58.7z"/>
<path fill="#00afff" d="M1269.2 511.9l148.1 0 0 -424.3 -40.2 0 -14.7 8 -11.8 8 -6.7 5.3 -8.6 8.1 -7.2 8 -6.1 8 -5.3 8 -5.9 10.6 -5.1 10.7 -5.2 13.4 -4.4 13.3 -3 10.7 -3.2 13.3 -3.3 16 -2.7 16 -2.3 16.1 -2.3 18.6 -2.2 21.4 -3.4 45.3 -2.5 50.8 -1.5 56 -0.5 58.7z"/>
<path fill="#00bfff" d="M1277.6 511.9l139.7 0 0 -424.3 -35.8 0 -14 8 -7.8 5.3 -6.8 5.4 -6 5.3 -7.7 8 -6.6 8 -5.6 8 -6.3 10.7 -5.3 10.7 -4.5 10.7 -3.8 10.6 -3.3 10.7 -3.6 13.3 -3 13.4 -3.1 16 -4.8 32 -4.3 40.1 -3.2 45.3 -2.4 50.7 -1.3 53.4 -0.5 58.7z"/>
<path fill="#00cfff" d="M1285.4 511.9l131.9 0 0 -424.3 -31.9 0 -13.3 8 -7.5 5.3 -6.5 5.4 -8.3 8 -7 8 -6 8 -5.1 8 -5.8 10.7 -4.9 10.7 -4.2 10.6 -3.6 10.7 -3.1 10.7 -3.3 13.3 -2.9 13.4 -2.9 16 -2.4 16 -2.4 18.7 -3.8 37.3 -2.9 42.7 -2.3 50.7 -1.3 53.4 -0.5 58.7z"/>
<path fill="#00dfff" d="M1292.7 511.9l124.6 0 0 -424.3 -28.3 0 -8.8 5.3 -7.6 5.4 -6.6 5.3 -5.9 5.3 -7.5 8.1 -6.4 8 -5.4 8 -4.7 8 -5.4 10.6 -4.5 10.7 -3.9 10.7 -3.3 10.7 -3.6 13.3 -2.5 10.7 -2.6 13.3 -2.8 16 -4.3 32.1 -3.8 40 -2.8 42.7 -2.1 48 -1.3 53.4 -0.5 58.7z"/>
<path fill="#00efff" d="M1299.6 511.9l117.7 0 0 -424.3 -25 0 -8.4 5.3 -7.3 5.4 -6.3 5.3 -8.1 8 -6.9 8 -5.8 8 -4.9 8 -4.4 8 -4.9 10.7 -3.3 8 -3.7 10.7 -4 13.3 -3.3 13.4 -2.9 13.3 -4.5 26.7 -4.1 32 -3.5 37.4 -2.7 42.7 -2.1 50.7 -1.2 53.4 -0.4 56z"/>
<path fill="#00ffff" d="M1306 511.9l111.3 0 0 -424.3 -22 0 -8 5.3 -6.9 5.4 -6.1 5.3 -7.8 8 -6.6 8 -5.5 8 -4.8 8 -4.2 8 -4.8 10.7 -3.1 8 -3.6 10.7 -3.8 13.3 -3.3 13.4 -2.7 13.3 -4.5 26.7 -4.2 34.7 -3.3 37.4 -2.7 45.3 -1.9 48.1 -1.1 50.7 -0.4 56z"/>
<path fill="#10ffef" d="M1312.1 511.9l105.2 0 0 -424.3 -19.2 0 -7.6 5.3 -9.7 8 -5.4 5.4 -7.1 8 -6 8 -5.1 8 -4.4 8 -3.8 8 -4.4 10.7 -3.8 10.7 -3.2 10.6 -2.9 10.7 -3 13.3 -2.6 13.4 -4.5 29.3 -3.7 32.1 -3.1 37.3 -2.4 42.7 -1.8 48.1 -1.1 50.7 -0.4 56z"/>
<path fill="#20ffdf" d="M1317.8 511.9l99.5 0 0 -424.3 -16.6 0 -7.3 5.3 -9.2 8 -5.3 5.4 -6.8 8 -3.9 5.3 -5.2 8 -5.8 10.7 -3.7 8 -4.2 10.7 -2.8 8 -3.3 10.7 -3.4 13.3 -3 13.3 -2.5 13.4 -4.4 29.3 -3.5 32.1 -3 37.3 -2.4 42.7 -1.8 48.1 -1 50.7 -0.4 56z"/>
<path fill="#30ffcf" d="M1323.2 511.9l94.1 0 0 -424.3 -14.2 0 -7 5.3 -8.9 8 -7.3 8 -6.1 8.1 -5.3 8 -3 5.3 -5.4 10.7 -3.4 8 -3.9 10.7 -3.4 10.6 -5.5 21.4 -4.7 24 -4.3 29.3 -3.4 32.1 -2.9 37.3 -2.3 42.7 -1.7 48.1 -1.1 50.7 -0.3 56z"/>
<path fill="#40ffbf" d="M1328.3 511.9l89 0 0 -424.3 -11.9 0 -6.8 5.3 -8.5 8 -7 8 -7.7 10.7 -7.6 13.4 -4.9 10.6 -3.2 8 -6.1 18.7 -2.8 10.7 -3 13.3 -4.4 24.1 -4 29.3 -3.5 34.7 -2.7 37.4 -2 40 -1.6 48 -1 50.7 -0.3 53.4z"/>
<path fill="#50ffaf" d="M1333.1 511.9l84.2 0 0 -424.3 -9.9 0 -6.4 5.3 -5.6 5.4 -7.2 8 -6 8 -5.1 8 -4.4 8 -3.8 8 -6.3 16 -5.6 18.7 -5.5 24 -4.5 26.7 -3.4 26.7 -3.1 32 -2.6 37.4 -2.1 42.7 -1.5 45.3 -0.9 50.7 -0.3 53.4z"/>
<path fill="#60ff9f" d="M1337.6 511.9l79.7 0 0 -424.3 -7.9 0 -6.2 5.3 -5.4 5.4 -6.9 8 -5.8 8 -4.9 8 -4.2 8 -3.7 8 -3.2 8 -3.7 10.7 -5.3 18.7 -5.1 24 -3.9 24 -3.6 29.4 -2.9 32 -2.4 37.3 -2 42.7 -1.4 45.4 -0.9 50.7 -0.3 50.7z"/>
<path fill="#70ff8f" d="M1342 511.9l75.3 0 0 -424.3 -6.1 0 -8.6 8 -7.1 8 -4 5.3 -5.3 8.1 -4.5 8 -3.9 8 -3.4 8 -5.6 16 -3 10.7 -2.7 10.6 -4.3 21.4 -4.1 26.7 -3.2 26.7 -2.8 32 -2.4 37.3 -1.9 42.7 -1.3 45.4 -0.9 50.7 -0.2 50.7z"/>
<path fill="#80ff80" d="M1346.1 511.9l71.2 0 0 -424.3 -4.4 0 -5.7 5.3 -4.9 5.4 -6.4 8 -3.7 5.3 -4.9 8 -4.1 8 -3.6 8 -3.1 8 -5.2 16.1 -5.3 21.3 -4.1 21.3 -3.9 26.7 -2.9 26.7 -2.6 32 -2.2 34.7 -1.8 42.7 -1.3 45.4 -0.9 50.7 -0.2 50.7z"/>
<path fill="#8fff70" d="M1350 511.9l67.3 0 0 -424.3 -2.7 0 -8 8 -6.5 8 -3.8 5.3 -4.9 8.1 -6.7 13.3 -5.3 13.3 -5.7 18.7 -5 21.4 -3.8 21.3 -3.3 24 -3.3 32.1 -2.3 29.3 -2.2 37.4 -1.7 42.7 -1.1 42.7 -0.8 48 -0.2 50.7z"/>
<path fill="#9fff60" d="M1353.7 511.9l63.6 0 0 -424.3 -1.2 0 -5.3 5.3 -8.7 10.7 -3.6 5.3 -4.7 8.1 -6.5 13.3 -5.1 13.3 -5.5 18.7 -4.8 21.4 -3.7 21.3 -3.3 24 -2.9 29.4 -2.5 32 -2.1 37.4 -1.6 40 -1.2 45.4 -0.7 48 -0.2 50.7z"/>
<path fill="#afff50" d="M1357.2 511.9l60.1 0 0 -424 -7.2 7.7 -7.8 10.7 -6.3 10.7 -3.9 8 -3.4 8 -5.5 16 -4.4 16 -4.5 21.3 -3.4 21.4 -3.1 24 -2.8 29.4 -2.3 32 -2 37.3 -1.5 40.1 -1.1 45.3 -0.7 48.1 -0.2 48z"/>
<path fill="#bfff40" d="M1360.6 511.9l56.7 0 0 -422.6 -7.6 9 -7.2 10.6 -6.9 13.4 -5.5 13.3 -5.1 16 -4.7 18.7 -3.6 18.7 -3.2 21.4 -2.9 24 -2.7 29.3 -2.1 32 -1.9 37.4 -1.4 40 -1 42.7 -0.7 48.1 -0.2 48z"/>
<path fill="#cfff30" d="M1363.8 511.9l53.5 0 0 -421.1 -4 4.8 -3.8 5.3 -6.6 10.7 -6.4 13.4 -5 13.3 -4.8 16 -4.3 18.7 -3.4 18.7 -3 21.3 -2.7 24 -2.6 29.4 -2 32 -1.7 34.7 -1.4 40 -1 42.7 -0.6 48.1 -0.2 48z"/>
<path fill="#dfff20" d="M1366.9 511.9l50.4 0 0 -419.5 -6.2 8.5 -6.3 10.7 -6.2 13.4 -4.9 13.3 -3.9 13.3 -4.4 18.7 -3.3 18.7 -3.4 24 -2.6 24 -2.5 29.4 -2 32 -1.6 34.7 -1.4 40 -0.9 42.7 -0.6 48.1 -0.2 48z"/>
<path fill="#efff10" d="M1369.8 511.9l47.5 0 0 -417.7 -6.4 9.4 -3 5.3 -4 8.1 -5.4 13.3 -4.3 13.3 -4.1 16.1 -3.3 16 -3.5 21.3 -2.7 21.4 -2.1 21.3 -2.3 29.4 -1.9 32 -1.6 34.7 -1.2 40 -0.9 42.7 -0.8 93.4z"/>
<path fill="#ffff00" d="M1372.6 511.9l44.7 0 0 -415.9 -6.4 10.3 -5.2 10.7 -4.3 10.6 -5.1 16 -4 16.1 -3.7 18.6 -3.2 21.4 -2.6 21.3 -2.4 26.7 -2 26.7 -1.7 32 -1.5 37.4 -1.9 77.4 -0.7 90.7z"/>
<path fill="#ffef00" d="M1375.3 511.9l42 0 0 -414 -6.3 11 -5.8 13.4 -3.8 10.7 -4.5 16 -3.6 16 -2.9 16 -2.7 18.7 -2.7 24 -2.4 26.7 -1.9 29.3 -1.6 29.4 -1.3 34.7 -1.8 77.4 -0.7 90.7z"/>
<path fill="#ffdf00" d="M1377.9 511.9l39.4 0 0 -411.8 -4.8 8.8 -5.7 13.4 -4.4 13.3 -3.6 13.4 -3 13.3 -3.3 18.7 -2.6 18.7 -2.6 24 -2.3 26.7 -1.9 29.3 -2.8 64.1 -1.8 77.4 -0.6 90.7z"/>
<path fill="#ffcf00" d="M1380.4 511.9l36.9 0 0 -409.6 -4.6 9.3 -5.2 13.4 -4.9 16 -3.2 13.3 -3.1 16 -2.9 18.7 -2.3 18.7 -2.1 21.3 -1.9 24.1 -1.8 29.3 -2.7 64 -1.6 77.4 -0.6 88.1z"/>
<path fill="#ffbf00" d="M1382.8 511.9l34.5 0 0 -407.2 -4.3 9.6 -4.8 13.3 -3.9 13.4 -3.1 13.3 -2.5 13.4 -2.9 18.6 -2.6 21.4 -2.3 24 -3.4 50.7 -2.6 66.7 -1.6 77.4 -0.5 85.4z"/>
<path fill="#ffaf00" d="M1385 511.9l32.3 0 0 -404.6 -4 9.7 -3.6 10.6 -4.4 16 -2.9 13.4 -2.8 16 -2.6 18.7 -2.4 21.3 -1.7 18.7 -3.2 50.7 -2.5 64 -1.6 77.4 -0.6 88.1z"/>
<path fill="#ff9f00" d="M1387.3 511.9l30 0 0 -401.7 -4.5 12.1 -3.2 10.7 -3.3 13.3 -3.1 16 -2.2 13.4 -2.5 18.6 -2.2 21.4 -2 24 -3.1 53.4 -2.2 64 -1.3 72.1 -0.4 82.7z"/>
<path fill="#ff8f00" d="M1389.4 511.9l27.9 0 0 -398.6 -4 11.7 -3 10.6 -3 13.4 -3 16 -2.4 16 -2.2 18.7 -3.5 40 -3 53.4 -2.1 64 -1.3 72.1 -0.4 82.7z"/>
<path fill="#ff8000" d="M1391.4 511.9l25.9 0 0 -395.3 -3.4 11 -3.4 13.4 -2.7 13.3 -2.7 16 -2.5 18.7 -1.7 16 -3.4 42.7 -2.5 48 -2 64.1 -1.2 74.7 -0.4 77.4z"/>
<path fill="#ff7000" d="M1393.4 511.9l23.9 0 0 -391.6 -3.5 12.7 -2.5 10.6 -2 10.7 -2.6 16 -2.1 16 -2.3 21.4 -3.2 42.7 -2.5 53.4 -1.8 61.3 -1.1 69.4 -0.3 77.4z"/>
<path fill="#ff6000" d="M1395.3 511.9l22 0 0 -387.6 -2.3 8.7 -2.9 13.3 -2.3 13.4 -2.4 16 -3.4 32 -3.1 42.7 -2.4 50.7 -1.8 61.4 -1.1 72 -0.3 77.4z"/>
<path fill="#ff5000" d="M1397.1 511.9l20.2 0 0 -383.1 -2.2 9.5 -2.6 13.3 -2.5 16.1 -2.1 16 -3.3 34.7 -2.5 40 -2.2 53.4 -1.5 56 -1 69.4 -0.3 74.7z"/>
<path fill="#ff4000" d="M1398.9 511.9l18.4 0 0 -378.1 -4.4 23.2 -3.5 26.7 -3 32 -2.8 45.4 -2.1 50.7 -1.5 61.3 -0.8 66.7 -0.3 72.1z"/>
<path fill="#ff3000" d="M1400.6 511.9l16.7 0 0 -372.5 -3.9 22.9 -3.4 29.4 -2.9 34.7 -2.3 42.7 -1.9 50.7 -1.2 56 -0.8 64 -0.3 72.1z"/>
<path fill="#ff2000" d="M1402.2 511.9l15.1 0 0 -366.3 -4 27.4 -2.9 29.3 -2.6 37.4 -1.9 40 -1.6 48.1 -1.2 58.7 -0.7 61.4 -0.2 64z"/>
<path fill="#ff1000" d="M1403.8 511.9l13.5 0 0 -359.1 -3.6 28.2 -2.6 29.4 -1.9 29.3 -2 42.7 -1.5 50.7 -1 53.4 -0.7 61.4 -0.2 64z"/>
<path fill="#ff0000" d="M1405.4 511.9l11.9 0 0 -350.9 -3.1 28 -2.1 26.7 -2.1 34.7 -1.7 42.7 -1.2 45.3 -0.9 50.7 -0.6 58.8 -0.2 64z"/>
<path fill="#ef0000" d="M1406.9 511.9l10.4 0 0 -341.5 -2.1 21.3 -2.4 32 -1.8 34.7 -1.4 37.3 -1.2 48.1 -0.8 50.7 -0.7 117.4z"/>
<path fill="#df0000" d="M1408.3 511.9l9 0 0 -330.3 -2 23.4 -2 32 -1.4 32.1 -1.3 40 -1.7 90.7 -0.6 112.1z"/>
<path fill="#cf0000" d="M1409.7 511.9l7.6 0 0 -317.1 -1.8 26.2 -1.6 32.1 -2.3 69.3 -1.4 88.1 -0.5 101.4z"/>
<path fill="#bf0000" d="M1411.1 511.9l6.2 0 0 -300.9 -2.5 50.1 -2.1 72 -1.2 85.4 -0.4 93.4z"/>
<path fill="#af0000" d="M1412.4 511.9l4.9 0 0 -280.7 -2.1 51.2 -1.5 66.7 -1 77.4 -0.3 85.4z"/>
<path fill="#9f0000" d="M1413.7 511.9l3.6 0 0 -254.5 -1.5 49 -1.1 58.7 -0.8 69.4 -0.2 77.4z"/>
<path fill="#8f0000" d="M1414.9 511.9l2.4 0 0 -218.5 -1 45 -0.8 53.4 -0.6 120.1z"/>
<path fill="#800000" d="M1416.1 511.9l1.2 0 0 -163.3 -0.9 77.9 -0.3 85.4z"/>
<path d="M1066 511.9v-5 M1066 87.6v5M1159.7 511.9v-5 M1159.7 87.6v5M1253.4 511.9v-5 M1253.4 87.6v5M1347 511.9v-5 M1347 87.6v5M972.3 422.3h5 M1417.3 422.3h-5M972.3 332.7h5 M1417.3 332.7h-5M972.3 243.1h5 M1417.3 243.1h-5M972.3 153.5h5 M1417.3 153.5h-5" stroke="#000" stroke-width="3.8" fill="none"/>
<rect x="972.3" y="87.6" width="445" height="424.3" fill="none" stroke="#000" stroke-width="4.2"/>
<text x="972.3" y="547" font-size="40.9" text-anchor="middle" transform="scale(1 1.015)">0</text>
<text x="1066" y="547" font-size="40.9" text-anchor="middle" transform="scale(1 1.015)">0.2</text>
<text x="1159.7" y="547" font-size="40.9" text-anchor="middle" transform="scale(1 1.015)">0.4</text>
<text x="1253.4" y="547" font-size="40.9" text-anchor="middle" transform="scale(1 1.015)">0.6</text>
<text x="1347" y="547" font-size="40.9" text-anchor="middle" transform="scale(1 1.015)">0.8</text>
<text x="964" y="518.6" font-size="40.9" text-anchor="end" transform="scale(1 1.015)">0</text>
<text x="964" y="430.3" font-size="40.9" text-anchor="end" transform="scale(1 1.015)">0.2</text>
<text x="964" y="342.1" font-size="40.9" text-anchor="end" transform="scale(1 1.015)">0.4</text>
<text x="964" y="253.8" font-size="40.9" text-anchor="end" transform="scale(1 1.015)">0.6</text>
<text x="964" y="165.5" font-size="40.9" text-anchor="end" transform="scale(1 1.015)">0.8</text>
<rect x="1451" y="87.2" width="46.2" height="424.9" fill="url(#jet)"/>
<rect x="1451.3" y="87.5" width="45.6" height="424.3" fill="none" stroke="#200" stroke-opacity=".7" stroke-width="1"/>
<path d="M1451 445.8h4 M1497.2 445.8h-4M1451 381.3h4 M1497.2 381.3h-4M1451 316.7h4 M1497.2 316.7h-4M1451 252.1h4 M1497.2 252.1h-4M1451 187.5h4 M1497.2 187.5h-4M1451 122.9h4 M1497.2 122.9h-4" stroke="#000" stroke-opacity=".8" stroke-width="1.2" fill="none"/>
<text x="1503.3" y="453.5" font-size="40.9" text-anchor="start" transform="scale(1 1.015)">0.1</text>
<text x="1503.3" y="389.9" font-size="40.9" text-anchor="start" transform="scale(1 1.015)">0.2</text>
<text x="1503.3" y="326.3" font-size="40.9" text-anchor="start" transform="scale(1 1.015)">0.3</text>
<text x="1503.3" y="262.6" font-size="40.9" text-anchor="start" transform="scale(1 1.015)">0.4</text>
<text x="1503.3" y="199" font-size="40.9" text-anchor="start" transform="scale(1 1.015)">0.5</text>
<text x="1503.3" y="135.4" font-size="40.9" text-anchor="start" transform="scale(1 1.015)">0.6</text>
<rect x="177.7" y="677" width="440.5" height="423.8" fill="#00008f"/>
<path fill="#00009f" d="M177.7 1100.8l440.5 0 0 -321.5 -14.6 -11.7 -13.1 -11.2 -14.1 -12.8 -13.6 -13.2 -12.8 -13.4 -12 -13.3 -11.2 -13.3 -10.6 -13.4 -338.5 0 0 423.8z"/>
<path fill="#0000af" d="M177.7 1100.8l440.5 0 0 -254.4 -13.9 -8.9 -12.5 -8.6 -11.1 -8 -12.4 -9.4 -11.3 -9.2 -12.3 -10.7 -9.6 -8.8 -11.1 -10.7 -19.4 -20.6 -11.1 -12.8 -8.9 -11.1 -10.2 -13.3 -8.6 -12 -8.3 -12.3 -8.3 -13 -271.5 0 0 423.8z"/>
<path fill="#0000bf" d="M177.7 1100.8l440.5 0 0 -208.1 -19.4 -10.5 -18 -10.6 -16.6 -10.7 -15.3 -10.6 -14.1 -10.7 -16.2 -13.3 -14 -12.5 -11.9 -11.5 -13 -13.7 -13.7 -15.6 -11.3 -14 -11 -14.9 -11.1 -16.2 -10.2 -16.2 -9.4 -16 -10 -18.7 -225.3 0 0 423.8z"/>
<path fill="#0000cf" d="M177.7 1100.8l440.5 0 0 -174.1 -21.1 -9.8 -20.9 -10.7 -18.9 -10.7 -21.2 -13.3 -19 -13.3 -17.1 -13.3 -15.6 -13.3 -15.8 -15.1 -16 -16.9 -13.6 -16 -12.3 -16 -13.5 -19.5 -11.1 -17.6 -11.1 -19.4 -11.1 -21.5 -10.7 -23.3 -191.5 0 0 423.8z"/>
<path fill="#0000df" d="M177.7 1100.8l440.5 0 0 -148.2 -27.7 -11.3 -24 -11.1 -20.6 -10.6 -22.9 -13.4 -20.2 -13.3 -18.1 -13.3 -18.9 -15.8 -17.2 -16.2 -16 -17 -14.8 -17.7 -13.9 -18.6 -14 -21.3 -12.7 -21.9 -11.1 -21.4 -11.1 -23.9 -11.7 -28.8 -165.6 0 0 423.8z"/>
<path fill="#0000ef" d="M177.7 1100.8l440.5 0 0 -127.7 -30.1 -10.9 -25.8 -10.7 -13.4 -6.1 -14.6 -7.2 -24.1 -13.2 -22.2 -14 -10.7 -7.4 -10.7 -8 -10 -8 -9.3 -8 -16.9 -16 -8.9 -9.4 -8.3 -9.3 -8.3 -10 -8.3 -10.7 -13.9 -19.8 -13.8 -22.5 -6.5 -11.6 -6.8 -13.3 -11.7 -25 -11.1 -27.1 -9.9 -27.9 -145.2 0 0 423.8z"/>
<path fill="#0000ff" d="M177.7 1100.8l440.5 0 0 -111.1 -19.6 -6.2 -15.6 -5.3 -28.1 -10.7 -25.4 -11 -13.8 -6.8 -11.8 -6.2 -10.4 -5.8 -12.4 -7.5 -12.3 -8 -11.3 -8 -10.5 -8 -9.7 -8 -10.3 -9 -10 -9.6 -9.4 -9.8 -8.3 -9.3 -8.3 -10 -8.3 -10.9 -8.3 -11.7 -8.1 -12.3 -6.4 -10.7 -7.5 -13.3 -5.7 -10.8 -7.7 -15.8 -11.7 -27.3 -11.1 -29.9 -9.8 -30.8 -128.7 0 0 423.8z"/>
<path fill="#0010ff" d="M177.7 1100.8l440.5 0 0 -97.4 -19.4 -5.5 -16.6 -5.1 -19.4 -6.5 -13.9 -5 -27.2 -11.1 -14.3 -6.6 -13.7 -6.7 -11.3 -6.1 -12.4 -7.3 -12.7 -8 -11.6 -8 -10.7 -7.9 -10.7 -8.7 -11.1 -9.8 -8.5 -8.2 -10.3 -10.7 -8.9 -10.1 -8.3 -10.3 -8.3 -11.1 -8.4 -12.1 -7.8 -12.3 -6.2 -10.7 -7.2 -13.3 -6.5 -13 -7.4 -16.3 -6.4 -15.5 -5.5 -14.4 -5.6 -15.6 -5.5 -17 -9.7 -33.5 -115 0 0 423.8z"/>
<path fill="#0020ff" d="M177.7 1100.8l440.5 0 0 -85.9 -18.5 -4.7 -19.2 -5.4 -17.6 -5.3 -16.1 -5.3 -14.8 -5.3 -19.1 -7.6 -13.3 -5.8 -14.4 -6.8 -12.6 -6.5 -14.2 -8 -12.9 -8 -11.8 -8 -10.8 -8 -9.9 -8 -10.9 -9.5 -9.5 -9.1 -9.9 -10.4 -8.3 -9.5 -8.3 -10.3 -8.3 -11.3 -8.3 -12.3 -8 -12.9 -7.4 -13.3 -6.8 -13.1 -7.6 -16.2 -6.2 -14.7 -5.6 -14.1 -5.5 -15.4 -5.6 -16.7 -5.5 -18.3 -5.6 -20.1 -4.5 -18 -103.5 0 0 423.8z"/>
<path fill="#0030ff" d="M177.7 1100.8l440.5 0 0 -76.1 -16.7 -3.9 -21.2 -5.3 -28.2 -8 -25.3 -8.3 -27.3 -10.3 -24 -10.7 -12.4 -6.2 -13.1 -7.1 -9.1 -5.4 -12.4 -8 -18.4 -13.3 -12.9 -10.7 -11.7 -10.8 -11.1 -11.3 -11.1 -12.7 -10.2 -13.1 -9.3 -13.4 -10 -15.9 -8.9 -16 -8.7 -17.5 -8.3 -18.9 -6.6 -16.9 -6.7 -18.7 -6.1 -19.2 -5.5 -19.2 -5.6 -21.2 -6 -25.7 -93.7 0 0 423.8z"/>
<path fill="#0040ff" d="M177.7 1100.8l440.5 0 0 -67.7 -20.2 -4.3 -18.6 -4.3 -33.2 -8.8 -26.6 -8.2 -15.3 -5.3 -13.9 -5.4 -24.7 -10.6 -13.7 -6.7 -12.3 -6.6 -9.9 -5.9 -11.8 -7.5 -11.4 -8 -10.4 -8 -12.5 -10.6 -11.1 -10.7 -12.1 -12.9 -9.2 -11.1 -10 -13.3 -8.9 -13.3 -9.5 -16 -8.4 -16 -6.6 -13.8 -8.3 -19.6 -7.5 -19.9 -6.4 -19.1 -5.5 -18.4 -5.7 -21.2 -5.4 -22.1 -6.1 -28.5 -85.3 0 0 423.8z"/>
<path fill="#0050ff" d="M177.7 1100.8l440.5 0 0 -60.3 -18.9 -3.7 -24.8 -5.3 -32.2 -8 -18.7 -5.3 -17 -5.4 -15.3 -5.3 -14.1 -5.3 -12.8 -5.4 -12.4 -5.6 -13.9 -6.9 -11.2 -6.1 -10.9 -6.6 -11.1 -7.2 -10.5 -7.5 -10.2 -8 -12.1 -10.7 -10.9 -10.7 -11.7 -13 -8.8 -10.9 -10.6 -14.9 -8.3 -13.1 -8.3 -14.7 -8.4 -16.5 -8 -18.1 -5.8 -14.6 -8 -22.8 -5.9 -18.6 -5.5 -19.9 -5.5 -22.1 -5.6 -25 -5.1 -26.3 -78 0 0 423.8z"/>
<path fill="#0060ff" d="M177.7 1100.8l440.5 0 0 -53.9 -39.7 -7.4 -37.9 -8.6 -17.8 -4.7 -18.2 -5.4 -16.5 -5.3 -14.8 -5.3 -13.5 -5.4 -16.1 -7 -13 -6.3 -12 -6.4 -11.6 -6.9 -12.3 -8 -11 -8 -9.9 -8 -12 -10.7 -10.5 -10.6 -10.2 -11.6 -11.1 -14.2 -8.3 -12.1 -8.3 -13.6 -8.4 -15.2 -8.3 -17.3 -7.3 -17.3 -6.5 -17.3 -7.5 -22.7 -6.2 -21.3 -5.7 -22.3 -5.6 -24.5 -5.5 -27.8 -3.3 -18.7 -71.5 0 0 423.8z"/>
<path fill="#0070ff" d="M177.7 1100.8l440.5 0 0 -48.1 -44.7 -7.9 -37.1 -8 -21.1 -5.3 -18.8 -5.3 -16.9 -5.4 -15.2 -5.3 -13.7 -5.3 -12.6 -5.4 -13.8 -6.5 -13.9 -7.3 -12.7 -7.5 -12.2 -8 -10.9 -8 -9.8 -8 -12.6 -11.4 -11 -11.6 -9.9 -11.6 -9.5 -12.8 -8.3 -12.5 -8.7 -14.7 -8 -15.3 -8.3 -18.3 -7.8 -19.7 -6 -17.4 -5.6 -17.9 -5.5 -20 -5.6 -22.7 -5.5 -25.8 -5.5 -29.7 -3.5 -21.1 -65.8 0 0 423.8z"/>
<path fill="#0080ff" d="M177.7 1100.8l440.5 0 0 -43 -46.7 -7.6 -39.3 -8 -22.2 -5.4 -19.6 -5.3 -17.4 -5.3 -15.6 -5.4 -14.1 -5.3 -13.5 -5.6 -16.3 -7.7 -11.4 -6.1 -12.4 -7.2 -12.2 -8 -10.9 -8 -9.7 -8 -11.6 -10.7 -10.2 -10.7 -10.6 -12.5 -8.5 -11.4 -8.1 -12.3 -8.4 -14.4 -8.2 -15.9 -8.3 -18.7 -8.2 -21.4 -5.7 -16.8 -5.5 -18.6 -5.6 -21.1 -5.5 -23.9 -5.5 -27.6 -5.3 -30.6 -3.3 -21.3 -60.7 0 0 423.8z"/>
<path fill="#008fff" d="M177.7 1100.8l440.5 0 0 -38.4 -45.5 -6.9 -23.8 -4.3 -19.4 -3.9 -22.5 -5.1 -20.7 -5.4 -18.2 -5.3 -16.2 -5.3 -14.5 -5.4 -13.1 -5.3 -13.9 -6.3 -13.8 -7.1 -13.8 -7.9 -11.2 -7.3 -11.9 -8.7 -10.2 -8.4 -11.1 -10.3 -11.1 -11.7 -10 -12.3 -9.4 -13 -8.3 -13.2 -8.3 -15 -8.3 -17.4 -5.7 -13.3 -7.9 -21.3 -5.8 -18.2 -5.6 -19.6 -5.5 -22.2 -5.5 -25.7 -5.4 -29 -3.5 -21.3 -4.3 -29.3 -56.1 0 0 423.8z"/>
<path fill="#009fff" d="M177.7 1100.8l440.5 0 0 -34.3 -24.9 -3.3 -32.6 -5 -20.1 -3.6 -22.1 -4.4 -34.3 -8 -19.2 -5.4 -17 -5.3 -15.1 -5.3 -16.9 -6.8 -14.5 -6.6 -13.2 -6.8 -11.4 -6.5 -13.6 -8.8 -11.1 -8.2 -11 -9.3 -11.1 -10.6 -10.1 -11.1 -9.3 -11.5 -8.7 -12.5 -7.9 -12.7 -8.4 -15.4 -8 -17.2 -6.5 -16 -7.5 -21.3 -5.7 -18.6 -5.5 -20.8 -5.5 -23.8 -4.5 -22.1 -3.9 -21.3 -5.5 -35.7 -3.4 -25.6 -52 0 0 423.8z"/>
<path fill="#00afff" d="M177.7 1100.8l440.5 0 0 -30.5 -30.5 -3.9 -20.4 -2.9 -23.9 -3.9 -22.7 -4.1 -21.6 -4.5 -16.7 -3.9 -18.9 -4.9 -19.8 -6 -19.4 -6.7 -15.1 -6 -12.6 -5.6 -15.3 -7.7 -13.7 -8 -12.1 -8 -10.6 -8 -9.5 -8 -10.9 -10.4 -9.9 -10.9 -9.5 -12 -8.3 -12 -8.3 -13.6 -8.3 -15.9 -7.2 -15.8 -6.6 -16.9 -5.6 -15.9 -5.5 -18.2 -5.6 -20.7 -5.6 -24.3 -5.5 -27.8 -4.7 -28.2 -3.6 -24.1 -4.4 -34.5 -48.2 0 0 423.8z"/>
<path fill="#00bfff" d="M177.7 1100.8l440.5 0 0 -27.1 -30.5 -3.6 -28.7 -4 -23.9 -3.7 -23.6 -4.2 -18 -3.7 -19.4 -4.4 -20.2 -5.3 -17.9 -5.3 -15.7 -5.3 -14 -5.4 -15.3 -6.6 -13.8 -6.8 -13.9 -7.9 -11.1 -7.2 -12 -8.8 -10.1 -8.5 -11.1 -10.7 -11.1 -12.4 -8.5 -11 -9 -13.4 -7.8 -13.3 -7.9 -15.8 -8.2 -18.8 -5.7 -15.4 -5.5 -17 -5.6 -19.4 -5.5 -22.4 -5.6 -26.3 -4.4 -24.8 -3.9 -24.1 -4 -29.2 -3.8 -32 -44.8 0 0 423.8z"/>
<path fill="#00cfff" d="M177.7 1100.8l440.5 0 0 -23.9 -24.6 -2.8 -28 -3.5 -30.5 -4.4 -19.4 -3.2 -25.6 -4.8 -18.7 -4.1 -19.4 -4.8 -19.4 -5.6 -19.4 -6.4 -15.3 -5.8 -15.2 -6.6 -13.3 -6.7 -13.9 -8 -11.6 -7.7 -11 -8.3 -9.3 -8 -10.9 -10.7 -10.3 -11.8 -9.2 -12.2 -8.6 -13.3 -7.5 -13.3 -8 -16.4 -6.4 -15.6 -6.8 -18.7 -6.2 -20.2 -5.2 -19.7 -4.3 -18.7 -4.4 -21.3 -4.6 -26.7 -3.6 -23.3 -4.3 -32.6 -3.9 -34.7 -41.7 0 0 423.8z"/>
<path fill="#00dfff" d="M177.7 1100.8l440.5 0 0 -21.1 -50.8 -5.6 -26.8 -3.5 -28.5 -4.5 -21.3 -3.8 -20.5 -4.1 -22.5 -5.4 -19.3 -5.3 -16.8 -5.3 -14.8 -5.4 -14.2 -5.8 -15.7 -7.5 -14.4 -8 -11.4 -7.3 -11.8 -8.7 -10.4 -8.8 -11.1 -10.9 -10.6 -12.3 -8.8 -11.8 -8.3 -13 -8.3 -15.2 -6.3 -13.3 -7.5 -18.6 -5.6 -16 -5.5 -18.3 -5.6 -21.3 -5.5 -25 -3.9 -20.7 -4.4 -26.5 -3.5 -24.2 -4.5 -37.3 -3.1 -29.3 -38.8 0 0 423.8z"/>
<path fill="#00efff" d="M177.7 1100.8l440.5 0 0 -18.4 -53.6 -5.6 -29.5 -3.8 -28.2 -4.2 -21.7 -3.8 -21.1 -4.2 -22.9 -5.3 -19.6 -5.3 -16.9 -5.4 -14.8 -5.3 -15.5 -6.5 -14.3 -6.8 -13.4 -7.6 -11.1 -7.1 -11.1 -8.2 -11 -9.4 -10.5 -10.4 -8.9 -10.4 -8.4 -11 -8.5 -13.2 -8.1 -14.8 -6.8 -14.5 -7 -17.4 -6 -17.3 -5.1 -17.2 -5.6 -21.6 -5.5 -25.7 -4.3 -23.5 -4 -25.3 -3.8 -28 -4.5 -39.5 -2.6 -27.1 -36.2 0 0 423.8z"/>
<path fill="#00ffff" d="M177.7 1100.8l440.5 0 0 -16 -55.4 -5.4 -30.5 -3.7 -29.3 -4.2 -20.6 -3.5 -23.6 -4.5 -23.4 -5.3 -19.4 -5.2 -17.6 -5.5 -14.8 -5.3 -14.7 -6.1 -15 -7.3 -12.7 -7.1 -11.1 -7.2 -11.1 -8.2 -10.9 -9.5 -10.5 -10.6 -9.1 -10.8 -8.3 -11.5 -8.3 -13.4 -8.3 -15.9 -6.7 -15 -7.2 -19.1 -5.5 -17.4 -5.6 -20.3 -5.5 -24.1 -4.5 -23.1 -3.8 -22.8 -3.6 -25.2 -4 -32 -3.5 -33.2 -2.3 -25.4 -33.7 0 0 423.8z"/>
<path fill="#10ffef" d="M177.7 1100.8l440.5 0 0 -13.7 -58.2 -5.4 -30.5 -3.6 -29.2 -4 -23.4 -3.7 -22.5 -4.3 -21.8 -4.8 -16.6 -4.2 -14.9 -4.3 -18.4 -6.2 -16.6 -6.5 -12.8 -5.9 -14.9 -8 -11.1 -7 -12.2 -9 -10 -8.5 -10.2 -10.2 -9.2 -10.7 -9.5 -13.3 -8.1 -13.3 -7.3 -14 -7.8 -18 -6 -16.3 -5.6 -17.7 -5.5 -20.8 -5.6 -24.8 -4.5 -24.3 -3.8 -23.5 -3.3 -24.5 -3.8 -32 -3.7 -37.3 -2 -24 -31.5 0 0 423.8z"/>
<path fill="#20ffdf" d="M177.7 1100.8l440.5 0 0 -11.6 -27.7 -2.2 -36 -3.5 -33.3 -3.7 -22.4 -3 -24.7 -3.8 -23.2 -4.2 -21.1 -4.5 -16.6 -4 -17.1 -4.8 -16.2 -5.3 -16.6 -6.4 -15.4 -7 -14.8 -8 -11.3 -7.2 -11.1 -8.2 -10 -8.6 -10.5 -10.6 -10 -12 -8.3 -11.9 -8 -13.4 -7.9 -16 -6.3 -14.9 -5.5 -15.3 -5.6 -18 -5.5 -21.4 -5.1 -23.7 -4 -21.3 -4.1 -26.7 -3.4 -25.1 -2.8 -23.8 -2.8 -28.4 -3.8 -45.3 -29.4 0 0 423.8z"/>
<path fill="#30ffcf" d="M177.7 1100.8l440.5 0 0 -9.6 -41.6 -3.3 -27.7 -2.6 -29.2 -3.2 -21.1 -2.6 -24.5 -3.6 -25.9 -4.4 -23.9 -4.9 -16.7 -4.1 -15.8 -4.3 -17.4 -5.7 -16.6 -6.3 -14.8 -6.7 -14.8 -8 -12 -7.7 -11 -8.3 -9.2 -8 -10.3 -10.6 -8.8 -10.7 -7.8 -11.1 -8.3 -14.1 -7.3 -14.8 -6.5 -15.7 -5.6 -15.6 -5.5 -18.4 -5.6 -22 -4.5 -21.6 -3.8 -20.8 -4.1 -27.2 -4.2 -32.6 -2.8 -25.7 -2.7 -29.9 -3.1 -39.7 -27.4 0 0 423.8z"/>
<path fill="#40ffbf" d="M177.7 1100.8l440.5 0 0 -7.8 -39.3 -2.9 -30.3 -2.6 -26.2 -2.7 -26.1 -3.1 -24.9 -3.5 -25 -4.1 -26.8 -5.3 -17.5 -4.1 -16.6 -4.6 -16.6 -5.4 -16.7 -6.3 -13.7 -6.2 -14 -7.5 -11 -7 -11.1 -8.2 -10.7 -9.3 -10.2 -10.7 -8.6 -10.6 -7.4 -10.7 -7.7 -13.3 -7.8 -16 -5.8 -14.3 -5.6 -16 -5.5 -18.9 -4.3 -17.5 -4 -18.6 -4.8 -26.7 -3.6 -24 -4 -31.9 -3.6 -34.7 -3.4 -39.1 -2.1 -30.2 -25.6 0 0 423.8z"/>
<path fill="#50ffaf" d="M177.7 1100.8l440.5 0 0 -6.1 -63.7 -4.7 -30.5 -2.8 -36 -4.2 -25.8 -3.5 -18.5 -3 -26.3 -5 -18.1 -4.2 -14.6 -3.8 -18.6 -5.8 -16.6 -6.1 -15.2 -6.8 -12.5 -6.6 -11.1 -6.8 -11.1 -8.1 -11.1 -9.6 -11 -11.5 -8.4 -10.6 -8.3 -12.5 -6.5 -11.6 -7.3 -15.4 -5.6 -13.9 -5.5 -16.4 -5.6 -19.5 -4.7 -20.1 -3.6 -17.5 -4.7 -27.8 -3.6 -25.3 -2.8 -22.9 -3.4 -34.4 -2.8 -32 -3.2 -45.3 -23.8 0 0 423.8z"/>
<path fill="#60ff9f" d="M177.7 1100.8l440.5 0 0 -4.4 -47.1 -3.2 -30.5 -2.5 -33.8 -3.2 -23.2 -2.7 -20.5 -2.7 -27.7 -4.4 -19.4 -3.6 -19.4 -4.2 -19.4 -5.1 -16.7 -5.2 -16.6 -6.1 -13.5 -6 -11.4 -5.9 -12.1 -7.4 -11 -8 -10.2 -8.7 -8.3 -8.5 -8 -9.5 -5.8 -8 -6.8 -10.6 -7.1 -13.2 -5 -10.8 -5.3 -13.4 -4.5 -13.3 -6.2 -21.3 -5.5 -24 -4.6 -24 -4.9 -31.5 -4.6 -37.8 -3.7 -38.1 -2.8 -34.9 -2.7 -41.6 -22.2 0 0 423.8z"/>
<path fill="#70ff8f" d="M177.7 1100.8l440.5 0 0 -2.9 -39.5 -2.4 -35.6 -2.7 -29.9 -2.7 -25.4 -2.6 -27.5 -3.5 -27.7 -4.1 -19.4 -3.5 -22.2 -4.8 -21 -5.5 -15 -4.7 -16 -5.9 -12.1 -5.3 -10.7 -5.5 -13.1 -7.9 -11 -8 -9.3 -8 -8.1 -8.2 -8.3 -9.9 -6.2 -8.5 -6.7 -10.7 -6.5 -12.4 -5.2 -11.6 -5.2 -13.3 -4.4 -13.3 -6.6 -24 -5.3 -24 -4.3 -24 -5 -34.6 -3.1 -26.7 -3.8 -40 -3.2 -42.6 -2.5 -40 -20.7 0 0 423.8z"/>
<path fill="#80ff80" d="M177.7 1100.8l440.5 0 0 -1.5 -63.7 -3.9 -32.5 -2.6 -36.8 -3.6 -30.5 -3.7 -23.5 -3.4 -20.8 -3.6 -21.3 -4.4 -21.2 -5.3 -15.7 -4.7 -16.2 -5.9 -12.4 -5.4 -12.9 -6.6 -11.1 -6.7 -11.1 -8.1 -11.1 -9.7 -8.3 -8.8 -6.5 -8.1 -7.3 -10.5 -6.3 -10.8 -5.4 -10.6 -5.7 -13.4 -4.8 -12.9 -5.1 -16.4 -6 -23.8 -4.9 -24.2 -3.5 -21.3 -4.4 -32 -3.8 -34.5 -2.8 -30.9 -2.7 -37.5 -3 -49 -19.2 0 0 423.8z"/>
<path fill="#8fff70" d="M177.7 1100.8l440.5 -0.1 -45.9 -2.6 -38.5 -2.6 -31.7 -2.7 -25.2 -2.5 -24 -2.8 -20.3 -2.8 -22.2 -3.6 -22.1 -4.3 -22 -5.3 -16.8 -5 -16.3 -5.7 -12.6 -5.3 -12.7 -6.4 -11.5 -6.9 -11.1 -8 -10.6 -9.4 -8.3 -8.7 -6.9 -8.6 -7 -10.1 -6.5 -11.2 -5.2 -10.7 -5.6 -13.3 -4.9 -13.7 -4.7 -15.6 -4.6 -18.7 -4.5 -21.6 -4.8 -29 -3.6 -26.7 -3.5 -32 -3.5 -39.9 -3.1 -45.4 -2.4 -42.6 -17.9 0 0 423.8z"/>
<path fill="#9fff60" d="M177.7 1100.8l416.8 0 -45 -2.7 -36.3 -2.6 -29.9 -2.7 -23 -2.4 -23.4 -2.9 -20.9 -3.1 -22.2 -3.9 -19.4 -4.1 -19.2 -4.9 -16.8 -5.3 -14.3 -5.4 -11.9 -5.3 -12.6 -6.8 -11.1 -7.1 -11.1 -8.7 -9.8 -9.4 -9.1 -10.7 -7.5 -10.6 -6.8 -11.5 -6.1 -12.5 -5.5 -13.3 -5.4 -16 -5.2 -18.4 -4.3 -18.9 -4 -20.7 -3.1 -19.3 -3.6 -26.7 -3.2 -29.3 -2.4 -26.7 -2.5 -31.9 -1.8 -27.9 -2.8 -52.1 -16.6 0 0 423.8z"/>
<path fill="#afff50" d="M177.7 1100.8l392.6 0 -42.4 -2.7 -34.2 -2.6 -28.2 -2.7 -21.8 -2.5 -21.9 -2.8 -19.7 -3.1 -22.2 -4.2 -16.6 -3.7 -18.5 -5 -14.7 -4.9 -13.9 -5.4 -12 -5.7 -12.9 -7.4 -11.1 -7.8 -10.3 -8.8 -7.7 -8 -8.6 -10.7 -6.6 -9.8 -6.4 -11.5 -6.2 -13.3 -4.2 -10.7 -5.4 -16.2 -5.5 -20.7 -3.6 -16.4 -4.4 -24 -3.1 -20.7 -2.8 -21.8 -2.8 -26 -2.7 -31.4 -2.8 -38.6 -4 -74.7 -15.4 0 0 423.8z"/>
<path fill="#bfff40" d="M177.7 1100.8l369.6 0 -39.9 -2.7 -32.2 -2.6 -26.6 -2.7 -21.6 -2.6 -19.6 -2.7 -19.1 -3.2 -19.4 -3.9 -16.7 -3.9 -17.3 -5 -13.1 -4.6 -13.9 -5.8 -11.2 -5.6 -11 -6.6 -11 -8.1 -8.3 -7.3 -9.4 -10 -7.3 -9.5 -7.4 -11.8 -6.4 -12.3 -5.1 -11.7 -4.8 -13.3 -4.1 -13.4 -4.8 -18.6 -3.9 -18.7 -4.5 -26.6 -3.3 -24 -2.8 -24.5 -2.4 -26.2 -2.9 -37.3 -1.5 -24 -3.8 -74.6 -14.3 0 0 423.8z"/>
<path fill="#cfff30" d="M177.7 1100.8l347.9 0 -37.6 -2.7 -30.4 -2.6 -25 -2.7 -19.4 -2.5 -19.4 -2.8 -19.4 -3.5 -19.4 -4.1 -13.8 -3.6 -15.7 -4.8 -14.3 -5.4 -11.8 -5.3 -10.9 -5.9 -11.1 -7.2 -8.3 -6.6 -8.3 -7.8 -8.6 -9.8 -7.7 -10.7 -5.9 -9.9 -5.5 -11.1 -5.5 -13.4 -4.7 -13.5 -3.8 -13.4 -4.5 -18.6 -3.7 -18.3 -2.7 -16.5 -3 -21.2 -2.6 -21.2 -3.1 -32.1 -2.4 -30.1 -2.8 -43.3 -3.4 -73.2 -13.2 0 0 423.8z"/>
<path fill="#dfff20" d="M177.7 1100.8l327.2 0 -35.4 -2.7 -28.6 -2.6 -23.5 -2.7 -19.8 -2.7 -16.8 -2.6 -20.3 -3.9 -17.7 -4.1 -12.7 -3.6 -13.6 -4.4 -13.4 -5.4 -11.1 -5.3 -9.4 -5.3 -10.7 -7.4 -8.3 -6.9 -8.3 -8.3 -7.8 -9.4 -6.1 -8.9 -5.6 -9.8 -5.5 -11.3 -5.5 -13.9 -4.8 -14.7 -3.6 -13.4 -4.2 -18.6 -4 -21.6 -2.8 -18.2 -2.8 -21.7 -2.7 -26.2 -2.8 -32.3 -3.9 -61.3 -3.3 -74.6 -12.2 0 0 423.8z"/>
<path fill="#efff10" d="M177.7 1100.8l307.5 0 -33.3 -2.7 -24.9 -2.4 -24.1 -2.9 -17.4 -2.5 -17 -2.8 -16.3 -3.3 -16.6 -4 -13.8 -4 -13.8 -4.7 -12.6 -5.4 -10.4 -5.3 -10.3 -6.3 -8.3 -6.1 -8.4 -7.4 -8.3 -8.9 -6.6 -8.6 -6.7 -10.7 -5.6 -10.6 -5.7 -13.3 -3.8 -10.7 -4.8 -16 -3.3 -13.3 -3.9 -18.7 -3.6 -21.3 -3.1 -22.6 -2.7 -24.6 -4 -46.1 -1.7 -24 -2.6 -48.7 -2.7 -65.9 -11.2 0 0 423.8z"/>
<path fill="#ffff00" d="M177.7 1100.8l288.7 0 -31.3 -2.7 -21.9 -2.3 -24.2 -3 -14.6 -2.2 -17.6 -3.1 -12.9 -2.7 -16.6 -4.2 -13.8 -4.1 -13.6 -5 -11.4 -5.1 -10.3 -5.6 -9.1 -5.9 -8.3 -6.5 -8.3 -7.8 -7.9 -9.1 -6 -8.4 -5.5 -9.2 -5.5 -11.2 -5.6 -13.7 -3.6 -10.8 -4.5 -16 -3 -12.6 -3.3 -16.7 -3.4 -21.3 -2.5 -18.7 -2.7 -24 -1.9 -20 -2.8 -36.1 -3.2 -55.8 -3.1 -80 -10.3 0 0 423.8z"/>
<path fill="#ffef00" d="M177.7 1100.8l270.8 0 -29.4 -2.7 -22.5 -2.5 -20.7 -2.8 -15.4 -2.5 -15 -2.8 -12.7 -2.9 -13.8 -3.6 -13.9 -4.4 -12.9 -5.1 -11.2 -5.4 -9.2 -5.3 -8.2 -5.7 -9.1 -7.6 -7.5 -7.7 -6.7 -8.3 -5.4 -8 -4.6 -8 -5.5 -11.5 -4.9 -12.5 -3.5 -10.6 -4.3 -16 -3.6 -16 -3.1 -16.7 -2.8 -18 -2.7 -21.8 -2.7 -26.2 -3.6 -45.3 -2 -33.2 -1.7 -33.4 -2.8 -77.3 -9.4 0 0 423.8z"/>
<path fill="#ffdf00" d="M177.7 1100.8l253.7 0 -27.6 -2.7 -21.1 -2.5 -19.4 -2.8 -13.8 -2.4 -14.7 -2.9 -13 -3.2 -13.9 -4 -11.1 -3.8 -12 -5 -10.1 -5.2 -9 -5.5 -7.7 -5.6 -8.3 -7.4 -5.5 -5.9 -6.2 -7.7 -6.9 -10.7 -4.3 -8 -4.9 -10.7 -4.9 -13.3 -4 -13.3 -4 -16 -3.6 -18.2 -2.8 -16.8 -2.5 -18.3 -3 -27.3 -1.9 -20.7 -3.6 -52.4 -2.8 -56.1 -2.6 -75.4 -8.5 0 0 423.8z"/>
<path fill="#ffcf00" d="M177.7 1100.8l237.3 0 -25.8 -2.7 -17.6 -2.2 -19.4 -2.9 -13.8 -2.6 -13.8 -2.9 -11.1 -2.9 -13.9 -4.2 -11.1 -4.1 -10.8 -4.8 -8.6 -4.7 -9.3 -6 -7.3 -5.7 -7.9 -7.6 -6 -6.9 -5.5 -7.6 -5.5 -9.2 -4.2 -8.3 -4.5 -10.7 -4.7 -13.3 -3.3 -11.5 -3 -12.5 -3.2 -16 -2.7 -16 -2.9 -21.3 -2 -17.3 -2.6 -28 -3.2 -45.3 -3 -58.6 -2.9 -88 -7.7 0 0 423.8z"/>
<path fill="#ffbf00" d="M177.7 1100.8l221.7 0 -24.2 -2.7 -17.4 -2.3 -18.1 -3 -12.4 -2.4 -12.5 -2.9 -12.4 -3.5 -13.5 -4.5 -8.7 -3.6 -9.2 -4.4 -9.2 -5.4 -7.6 -5.3 -7.2 -6.1 -7 -7.2 -6.4 -8 -5.3 -8 -4.4 -8 -4.6 -10 -3.4 -8.7 -4.3 -13.3 -3.4 -12.8 -2.8 -12.5 -2.8 -14.7 -2.7 -17.9 -2.8 -22 -2.7 -26.7 -1.5 -18.7 -3.5 -55.9 -2.9 -69.3 -1.9 -64 -6.9 0 0 423.8z"/>
<path fill="#ffaf00" d="M177.7 1100.8l206.7 0 -22.6 -2.7 -15.1 -2.2 -16.6 -2.8 -11.1 -2.3 -13.6 -3.3 -9.2 -2.7 -10.5 -3.6 -11 -4.5 -8.3 -4.2 -8.4 -4.9 -8.3 -6.1 -6.8 -6 -7 -7.6 -5.6 -7.3 -5.5 -8.9 -4.3 -8.2 -4 -9.3 -4.3 -12 -3.9 -13.3 -2.9 -12.3 -2.8 -13.8 -2.7 -16.6 -4.4 -34.6 -3.9 -45.8 -2.8 -45.9 -2.8 -65.8 -2.2 -77.1 -6.1 0 0 423.8z"/>
<path fill="#ff9f00" d="M177.7 1100.8l192.3 0 -20.5 -2.6 -13.9 -2.1 -16.6 -3.1 -11.1 -2.5 -11.5 -3 -10.7 -3.4 -11 -4.3 -8.3 -3.8 -8.1 -4.5 -8 -5.4 -6.6 -5.3 -5.5 -5.3 -5.1 -5.7 -5.6 -7.6 -5.5 -9.1 -4.7 -9.6 -3.6 -8.9 -4.1 -12.4 -3.7 -13.3 -2.3 -10.7 -3.1 -16 -2 -13.3 -4.2 -34.1 -3.4 -40.6 -3.1 -53.3 -2.3 -55.9 -2.4 -88 -5.4 0 0 423.8z"/>
<path fill="#ff8f00" d="M177.7 1100.8l178.5 0 -19.5 -2.7 -14.9 -2.5 -13.9 -2.8 -10.9 -2.7 -11.3 -3.3 -11 -3.9 -8.3 -3.6 -8.4 -4.3 -8.3 -5.3 -5.5 -4.1 -5.6 -4.9 -7.3 -7.9 -4.1 -5.3 -5.2 -8.1 -4.2 -7.9 -4.1 -9.2 -3.4 -9.5 -3.3 -10.6 -3.3 -13.3 -2.8 -13.4 -2.3 -13.3 -2.3 -16 -2 -16.8 -2 -20.5 -3.5 -48.5 -2.7 -55.5 -2.3 -69.3 -1.4 -58.6 -4.7 0 0 423.8z"/>
<path fill="#ff8000" d="M177.7 1100.8l165.3 0 -18.2 -2.7 -14.1 -2.5 -12.5 -2.8 -9.7 -2.5 -9 -2.8 -10.4 -3.9 -9.1 -4.1 -7.5 -4.2 -8.3 -5.6 -5.6 -4.5 -5.5 -5.3 -5.5 -6.5 -4.3 -5.9 -4.8 -8 -3.9 -8 -3.7 -8.8 -2.7 -8 -2.9 -9.9 -2.7 -10.5 -2.7 -13.4 -2.8 -16.6 -2.1 -15.4 -3.6 -34.7 -2.6 -34.8 -2.8 -53.1 -2.8 -82.1 -1.4 -67.2 -4.1 0 0 423.8z"/>
<path fill="#ff7000" d="M177.7 1100.8l152.5 0 -16.7 -2.7 -11.1 -2.1 -13.6 -3.2 -8.6 -2.4 -8.7 -2.9 -10.7 -4.4 -7.3 -3.6 -6.5 -3.9 -5.9 -4.1 -6.4 -5.4 -5.2 -5.3 -4.7 -5.6 -3.5 -5 -4.8 -8.1 -3.9 -7.9 -4.4 -11.3 -2.8 -8.7 -3.2 -12 -2.3 -10.7 -2.8 -15.2 -4 -30.1 -3.5 -37.3 -3 -48 -2 -48 -1.6 -50.6 -1.9 -85.3 -3.4 0 0 423.8z"/>
<path fill="#ff6000" d="M177.7 1100.8l140.3 0 -15.5 -2.7 -11.2 -2.3 -11.1 -2.9 -8.3 -2.5 -8.3 -3 -8.3 -3.7 -8.1 -4.2 -5.8 -3.8 -5.6 -4.2 -5.9 -5.4 -5.1 -5.6 -5.5 -7.6 -3.4 -5.4 -4 -8 -3.7 -8.8 -2.8 -8 -2.8 -9.4 -2.7 -11.5 -4.4 -23.6 -3.9 -31.5 -2.8 -31.4 -2.8 -45.1 -2.3 -57.3 -1.6 -58.6 -1.6 -77.3 -2.8 0 0 423.8z"/>
<path fill="#ff5000" d="M177.7 1100.8l128.5 0 -14.2 -2.7 -9 -2 -11.1 -3.1 -8.3 -2.7 -7.1 -2.8 -6.8 -3.2 -8.3 -4.7 -5.5 -3.8 -5.6 -4.6 -5 -5.1 -4.4 -5.3 -4.4 -6.3 -4 -7 -3.8 -8 -3.3 -8.6 -2.8 -8.7 -2.7 -10.5 -2.1 -9.5 -4.1 -24 -3.4 -29.3 -3 -37.3 -2.1 -37.4 -2 -50.6 -2 -74.6 -1.3 -72 -2.2 0 0 423.8z"/>
<path fill="#ff4000" d="M177.7 1100.8l117.1 0 -13 -2.7 -9.9 -2.5 -9.2 -2.8 -7.2 -2.7 -6.2 -2.6 -7.9 -4.2 -6 -3.8 -5.1 -3.9 -4.5 -4.1 -4.9 -5.4 -4.1 -5.3 -3.4 -5.3 -4.3 -8 -3.4 -8 -2.8 -8 -2.4 -8 -2.6 -10.7 -2.2 -10.6 -4.1 -26.7 -2.8 -27 -2.8 -37.9 -2.4 -49.7 -1.5 -45.3 -1.6 -68 -1.1 -70.6 -1.7 0 0 423.8z"/>
<path fill="#ff3000" d="M177.7 1100.8l106.2 0 -11.9 -2.7 -8.4 -2.3 -8.3 -2.8 -7.2 -2.9 -6.7 -3.2 -5.5 -3.2 -6.1 -4.2 -5 -4.3 -3.8 -3.7 -4.5 -5.5 -3.6 -5.2 -4.5 -8 -3 -6.4 -2.8 -7.3 -4.6 -15.6 -3.9 -18.7 -3.8 -26.6 -2.9 -29.3 -2.3 -34.7 -1.9 -40 -2 -61.3 -1.1 -53.3 -1.3 -82.6 -1.1 0 0 423.8z"/>
<path fill="#ff2000" d="M177.7 1100.8l95.6 0 -9.7 -2.4 -8.3 -2.5 -8.3 -3.1 -5.6 -2.4 -5.5 -2.9 -5.6 -3.5 -5.5 -4.2 -3.3 -3 -5 -5.3 -2.8 -3.5 -4.6 -7.2 -2.8 -5.3 -3.5 -8 -2.9 -8 -4.2 -16 -4 -21.3 -2.9 -22.8 -2.8 -31.1 -2.3 -39.4 -1.6 -40 -1.6 -54.8 -2.2 -137.1 -0.6 0 0 423.8z"/>
<path fill="#ff1000" d="M177.7 1100.8l85.4 0 -9.6 -2.7 -6.5 -2.2 -11.1 -4.8 -5.6 -3.1 -4.7 -3.2 -3.6 -2.8 -5.5 -5.2 -4.4 -5.3 -3.7 -5.4 -3 -5.3 -2.8 -5.9 -2.7 -7.1 -2.7 -8.3 -3.8 -16 -3.2 -18.7 -2.8 -23.9 -2.3 -26.7 -2.1 -37.3 -1.8 -45.3 -1.2 -45.3 -2.3 -149.3 0 423.8z"/>
<path fill="#ff0000" d="M177.7 1100.8l75.5 0 -8.5 -2.7 -6.1 -2.3 -5.5 -2.5 -5.5 -3 -8.3 -6 -2.8 -2.5 -4.7 -5 -3.6 -4.8 -2.8 -4.4 -2.8 -5.2 -2.7 -6.3 -3.8 -11.3 -3.9 -16 -3.4 -20.6 -2.5 -22 -2.1 -26.7 -1.7 -29.3 -1.6 -40 -1.1 -39.9 -2.1 -128.1 0 378.6z"/>
<path fill="#ef0000" d="M177.7 1100.8l66 0 -7.5 -2.7 -5.9 -2.5 -8.3 -4.7 -4.6 -3.4 -3.1 -2.7 -6.1 -6.7 -2.8 -4 -2.8 -4.5 -4.1 -8.8 -4.2 -12.3 -3.4 -14.3 -2.7 -16 -2.2 -18.7 -2.3 -26.6 -1.5 -26.7 -1.6 -37.3 -0.9 -32 -2 -107 0 330.9z"/>
<path fill="#df0000" d="M177.7 1100.8l56.8 0 -9.7 -4.2 -8.3 -5.1 -5.6 -4.6 -2.7 -2.9 -3.6 -4.5 -4.7 -7.7 -3.7 -8.3 -3.5 -10.7 -3.1 -13.3 -2.6 -16 -1.9 -16 -1.9 -21.2 -1.4 -24.1 -1.3 -28.3 -1 -30.3 -1.8 -87.6 0 284.8z"/>
<path fill="#cf0000" d="M177.7 1100.8l47.9 0 -6.3 -3.1 -7.5 -4.9 -5.8 -5.3 -4.2 -5.4 -4.7 -8 -2.8 -6.4 -3.1 -9.5 -2.5 -10.7 -2.3 -13.3 -2 -16 -1.5 -16 -1.4 -21.3 -2.1 -48 -1.7 -72.2 0 240.1z"/>
<path fill="#bf0000" d="M177.7 1100.8l39.3 0 -6.1 -3.6 -5.5 -4.4 -4.8 -5.3 -3.5 -5.3 -2.8 -5.4 -2.7 -7 -2.7 -9 -1.8 -8 -1.8 -10.6 -1.7 -13.4 -2.6 -32 -1.9 -39.9 -1.4 -53 0 196.9z"/>
<path fill="#af0000" d="M177.7 1100.8l30.9 0 -3.7 -2.7 -5 -4.6 -2.8 -3.5 -2.8 -4.3 -2.7 -5.7 -2.2 -5.9 -3.5 -13.3 -2.9 -18.6 -2.2 -24 -1.8 -32 -1.3 -40.4 0 155z"/>
<path fill="#9f0000" d="M177.7 1100.8l22.8 0 -2.9 -2.7 -2.3 -2.6 -2 -2.7 -3 -5.3 -3.1 -8 -2.7 -10.7 -2.2 -13.3 -2 -18.7 -1.4 -21.3 -1.2 -29.2 0 114.5z"/>
<path fill="#8f0000" d="M177.7 1100.8l15 0 -3.8 -5.3 -2.5 -5.4 -1.8 -5.3 -2 -8 -1.7 -10.7 -1.2 -10.6 -2 -29.9 0 75.2z"/>
<path fill="#800000" d="M177.7 1100.8l7.4 0 -2.3 -5.3 -2.3 -9 -1.5 -9.7 -1.3 -13 0 37z"/>
<path d="M262.2 1101.5v-5 M262.2 677.2v5M351.2 1101.5v-5 M351.2 677.2v5M440.2 1101.5v-5 M440.2 677.2v5M529.2 1101.5v-5 M529.2 677.2v5M177.7 1011.6h5 M618.2 1011.6h-5M177.7 900.1h5 M618.2 900.1h-5M177.7 788.5h5 M618.2 788.5h-5" stroke="#000" stroke-width="3.8" fill="none"/>
<rect x="177.7" y="677.2" width="440.5" height="424.3" fill="none" stroke="#000" stroke-width="4.2"/>
<text x="262.2" y="1128.2" font-size="40.9" text-anchor="middle" transform="scale(1 1.015)">20</text>
<text x="351.2" y="1128.2" font-size="40.9" text-anchor="middle" transform="scale(1 1.015)">40</text>
<text x="440.2" y="1128.2" font-size="40.9" text-anchor="middle" transform="scale(1 1.015)">60</text>
<text x="529.2" y="1128.2" font-size="40.9" text-anchor="middle" transform="scale(1 1.015)">80</text>
<text x="618.2" y="1128.2" font-size="40.9" text-anchor="middle" transform="scale(1 1.015)">100</text>
<text x="170" y="1010.9" font-size="40.9" text-anchor="end" transform="scale(1 1.015)">5</text>
<text x="170" y="901" font-size="40.9" text-anchor="end" transform="scale(1 1.015)">10</text>
<text x="170" y="791.2" font-size="40.9" text-anchor="end" transform="scale(1 1.015)">15</text>
<text x="170" y="681.3" font-size="40.9" text-anchor="end" transform="scale(1 1.015)">20</text>
<rect x="652.3" y="676.8" width="45.7" height="424.9" fill="url(#jet)"/>
<rect x="652.6" y="677.1" width="45.1" height="424.3" fill="none" stroke="#200" stroke-opacity=".7" stroke-width="1"/>
<path d="M652.3 1045.1h4 M698 1045.1h-4M652.3 968h4 M698 968h-4M652.3 890.9h4 M698 890.9h-4M652.3 813.9h4 M698 813.9h-4M652.3 736.8h4 M698 736.8h-4" stroke="#000" stroke-opacity=".8" stroke-width="1.2" fill="none"/>
<text x="704.1" y="1044" font-size="40.9" text-anchor="start" transform="scale(1 1.015)">0.05</text>
<text x="704.1" y="968" font-size="40.9" text-anchor="start" transform="scale(1 1.015)">0.1</text>
<text x="704.1" y="892.1" font-size="40.9" text-anchor="start" transform="scale(1 1.015)">0.15</text>
<text x="704.1" y="816.1" font-size="40.9" text-anchor="start" transform="scale(1 1.015)">0.2</text>
<text x="704.1" y="740.2" font-size="40.9" text-anchor="start" transform="scale(1 1.015)">0.25</text>
<rect x="960.1" y="677" width="457.2" height="423.8" fill="#00008f"/>
<path fill="#00009f" d="M960.1 1100.8l451.1 0 6.1 -1.3 0 -422.5 -457.2 0 0 423.8z"/>
<path fill="#0000af" d="M960.1 1100.8l437.8 0 19.4 -4.5 0 -419.3 -457.2 0 0 423.8z"/>
<path fill="#0000bf" d="M960.1 1100.8l424.8 0 11.7 -2.7 20.7 -5.4 0 -415.7 -457.2 0 0 423.8z"/>
<path fill="#0000cf" d="M960.1 1100.8l412.1 0 21.8 -5.3 23.3 -6.9 0 -411.6 -457.2 0 0 423.8z"/>
<path fill="#0000df" d="M960.1 1100.8l399.7 0 11.1 -2.7 19.6 -5.3 16.6 -5.3 10.2 -3.8 0 -406.7 -457.2 0 0 423.8z"/>
<path fill="#0000ef" d="M960.1 1100.8l387.6 0 20.8 -5.3 17.6 -5.4 15 -5.3 16.2 -6.8 0 -401 -457.2 0 0 423.8z"/>
<path fill="#0000ff" d="M960.1 1100.8l375.7 0 20.3 -5.3 9 -2.7 15.8 -5.3 19.7 -8 16.7 -8.3 0 -394.2 -457.2 0 0 423.8z"/>
<path fill="#0010ff" d="M960.1 1100.8l364.1 0 10.4 -2.7 18.2 -5.3 22.3 -8 12.4 -5.3 10.8 -5.4 9.5 -5.3 9.5 -6 0 -385.8 -457.2 0 0 423.8z"/>
<path fill="#0020ff" d="M960.1 1100.8l352.8 0 19.3 -5.3 16.4 -5.4 13.9 -5.3 12.1 -5.3 10.6 -5.4 13.5 -8 11.4 -7.9 7.2 -5.9 0 -375.3 -457.2 0 0 423.8z"/>
<path fill="#0030ff" d="M960.1 1100.8l341.7 0 18.9 -5.3 15.9 -5.4 13.6 -5.3 11.8 -5.3 10.3 -5.4 13.2 -8 11.2 -7.9 9.4 -8 11.2 -11.3 0 -361.9 -457.2 0 0 423.8z"/>
<path fill="#0040ff" d="M960.1 1100.8l330.8 0 18.5 -5.3 15.5 -5.4 13.3 -5.3 11.5 -5.3 10.1 -5.4 12.9 -8 10.8 -7.9 9.3 -8 5.4 -5.4 7.3 -8 6.3 -8 5.5 -7.7 0 -344.1 -457.2 0 0 423.8z"/>
<path fill="#0050ff" d="M960.1 1100.8l320.2 0 18 -5.3 15.2 -5.4 12.9 -5.3 11.2 -5.3 9.9 -5.4 12.5 -8 7.3 -5.3 9.5 -8 10.6 -10.6 4.6 -5.4 6.3 -8 5.5 -8 4.8 -8 4.4 -8 4.3 -8.6 0 -319.2 -457.2 0 0 423.8z"/>
<path fill="#0060ff" d="M960.1 1100.8l309.8 0 17.5 -5.3 14.8 -5.4 12.7 -5.3 10.9 -5.3 9.6 -5.4 12.3 -8 7.1 -5.3 9.2 -8 8 -8 9 -10.6 7.6 -10.7 6.5 -10.7 5.6 -10.6 6 -13.3 5.2 -13.4 5.4 -16.6 0 -281.9 -457.2 0 0 423.8z"/>
<path fill="#0070ff" d="M960.1 1100.8l299.6 0 8.9 -2.7 15.7 -5.3 13.4 -5.3 11.4 -5.4 10 -5.3 12.7 -8 7.3 -5.3 9.6 -8 5.5 -5.3 7.5 -8 4.3 -5.4 6 -8 5.2 -8 4.6 -8 8 -16 4.4 -10.6 4 -10.7 6.7 -21.3 6 -24 5.3 -26.6 1.1 -6.3 0 -220.3 -457.2 0 0 423.8z"/>
<path fill="#0080ff" d="M960.1 1100.8l289.6 0 8.7 -2.7 15.3 -5.3 13 -5.3 11.2 -5.4 9.8 -5.3 12.4 -8 7.1 -5.3 9.3 -8 10.4 -10.7 4.4 -5.3 6.1 -8 8.5 -13.3 7 -13.4 7 -15.9 6.7 -18.7 6.1 -21.3 5 -21.4 6 -31.9 5.1 -34.7 4.5 -40 4 -45.2 0 -98.7 -457.2 0 0 423.8z"/>
<path fill="#008fff" d="M960.1 1100.8l279.9 0 8.5 -2.7 14.9 -5.3 12.6 -5.3 11 -5.4 9.4 -5.3 12.2 -8 6.9 -5.3 9.1 -8 10.1 -10.7 8.4 -10.6 8.6 -13.4 7.1 -13.3 7.1 -16 5.8 -16 5.6 -18.6 5.3 -21.4 4.8 -23.9 4 -24 3.7 -26.7 3.3 -29.3 3 -32 3 -37.3 2.5 -40 2.4 -45.3 -449.2 0 0 423.8z"/>
<path fill="#009fff" d="M960.1 1100.8l270.3 0 8.3 -2.7 14.5 -5.3 12.4 -5.3 10.6 -5.4 9.3 -5.3 11.8 -8 6.7 -5.3 8.9 -8 9.8 -10.7 8.2 -10.6 8.4 -13.4 7 -13.3 6.9 -16 5.6 -16 5.5 -18.6 5.1 -21.4 4.3 -21.3 4.3 -26.6 3.6 -26.7 3.3 -29.3 2.9 -32 2.9 -37.3 2.5 -40 2.3 -45.3 -435.4 0 0 423.8z"/>
<path fill="#00afff" d="M960.1 1100.8l260.9 0 8.1 -2.7 14.1 -5.3 12.1 -5.3 10.4 -5.4 9 -5.3 11.5 -8 6.6 -5.3 8.6 -8 9.6 -10.7 8 -10.6 8.2 -13.4 6.8 -13.3 6.7 -16 5.5 -16 5.4 -18.6 5 -21.4 4.6 -23.9 3.8 -24 3.5 -26.7 3.1 -29.3 2.9 -32 2.8 -37.3 2.4 -40 2.3 -45.3 -421.9 0 0 423.8z"/>
<path fill="#00bfff" d="M960.1 1100.8l251.7 0 7.8 -2.7 13.9 -5.3 11.7 -5.3 10.1 -5.4 8.8 -5.3 11.3 -8 6.4 -5.3 8.4 -8 9.4 -10.7 7.7 -10.6 8 -13.4 6.6 -13.3 6.6 -16 5.4 -16 5.2 -18.6 4.9 -21.4 4.4 -23.9 3.7 -24 3.4 -26.7 3.1 -29.3 2.9 -32 2.7 -37.3 2.3 -40 2.3 -45.3 -408.7 0 0 423.8z"/>
<path fill="#00cfff" d="M960.1 1100.8l242.6 0 7.7 -2.7 13.5 -5.3 11.4 -5.3 9.9 -5.4 8.6 -5.3 10.9 -8 6.3 -5.3 8.2 -8 9.1 -10.7 7.6 -10.6 7.8 -13.4 6.4 -13.3 6.4 -16 5.3 -16 5 -18.6 4.8 -21.4 4.4 -23.9 3.6 -24 3.3 -26.7 3 -29.3 2.7 -32 2.7 -37.3 2.3 -40 2.2 -45.3 -395.7 0 0 423.8z"/>
<path fill="#00dfff" d="M960.1 1100.8l233.8 0 7.5 -2.7 13.1 -5.3 11.2 -5.3 9.6 -5.4 8.3 -5.3 10.7 -8 6.1 -5.3 8 -8 8.9 -10.7 7.4 -10.6 7.6 -13.4 6.2 -13.3 6.3 -16 5.1 -16 4.9 -18.6 4.7 -21.4 4.2 -23.9 3.5 -24 3.3 -26.7 2.9 -29.3 2.7 -32 2.5 -37.3 2.3 -40 2.1 -45.3 -382.9 0 0 423.8z"/>
<path fill="#00efff" d="M960.1 1100.8l225.1 0 13.9 -5.3 11.8 -5.4 10.1 -5.3 8.7 -5.3 7.6 -5.4 9.8 -8 5.6 -5.3 7.4 -8 8.3 -10.6 6.9 -10.7 7.1 -13.3 5.9 -13.4 5.8 -15.9 4.9 -16 4.7 -18.7 4.4 -21.3 4 -24 3.4 -24 3.1 -26.7 2.8 -29.3 2.5 -32 2.5 -37.3 4.1 -82.6 -370.4 0 0 423.8z"/>
<path fill="#00ffff" d="M960.1 1100.8l216.6 0 13.6 -5.3 11.4 -5.4 9.9 -5.3 8.5 -5.3 7.4 -5.4 9.5 -8 5.5 -5.3 7.2 -8 8 -10.6 6.7 -10.7 7 -13.3 5.7 -13.4 5.7 -15.9 4.7 -16 4.6 -18.7 4.3 -21.3 3.9 -24 3.3 -24 3 -26.7 2.8 -29.3 2.5 -32 2.4 -37.3 4 -82.6 -358.2 0 0 423.8z"/>
<path fill="#10ffef" d="M960.1 1100.8l208.2 0 13.2 -5.3 11.2 -5.4 9.6 -5.3 8.3 -5.3 7.2 -5.4 9.3 -8 5.3 -5.3 7 -8 7.9 -10.6 6.5 -10.7 6.7 -13.3 5.6 -13.4 5.6 -15.9 4.6 -16 4.4 -18.7 4.2 -21.3 3.9 -24 3.1 -24 3 -26.7 2.7 -29.3 2.4 -32 2.3 -37.3 3.9 -82.6 -346.1 0 0 423.8z"/>
<path fill="#20ffdf" d="M960.1 1100.8l200 0 12.9 -5.3 10.9 -5.4 9.3 -5.3 8.1 -5.3 7 -5.4 9 -8 5.2 -5.3 6.8 -8 7.7 -10.6 6.3 -10.7 6.6 -13.3 5.5 -13.4 5.4 -15.9 4.4 -16 4.4 -18.7 4.1 -21.3 3.7 -24 3.1 -24 2.9 -26.7 2.6 -29.3 2.3 -32 2.3 -37.3 3.8 -82.6 -334.3 0 0 423.8z"/>
<path fill="#30ffcf" d="M960.1 1100.8l191.9 0 12.6 -5.3 10.6 -5.4 9.1 -5.3 7.8 -5.3 6.9 -5.4 8.8 -8 5 -5.3 6.7 -8 7.4 -10.6 6.2 -10.7 6.4 -13.3 5.3 -13.4 5.3 -15.9 4.3 -16 4.2 -18.7 4 -21.3 3.7 -24 3 -24 2.8 -26.7 2.5 -29.3 2.3 -32 2.2 -37.3 3.7 -82.6 -322.7 0 0 423.8z"/>
<path fill="#40ffbf" d="M960.1 1100.8l184 0 12.3 -5.3 10.3 -5.4 8.8 -5.3 7.6 -5.3 6.7 -5.4 8.6 -8 4.9 -5.3 6.5 -8 7.2 -10.6 6 -10.7 6.3 -13.3 5.1 -13.4 5.1 -15.9 4.3 -16 4.1 -18.7 3.9 -21.3 3.5 -24 2.9 -24 2.8 -26.7 2.4 -29.3 2.3 -32 2.1 -37.3 3.6 -82.6 -311.3 0 0 423.8z"/>
<path fill="#50ffaf" d="M960.1 1100.8l176.3 0 11.9 -5.3 10 -5.4 8.6 -5.3 7.4 -5.3 6.5 -5.4 8.3 -8 7.1 -7.9 5.9 -8 6.7 -10.7 5.7 -10.7 5.8 -13.3 4.8 -13.3 4.9 -16 4 -16 3.9 -18.7 3.6 -21.3 3.4 -24 2.8 -24 2.6 -26.6 2.4 -29.3 4.2 -69.3 3.3 -80 -300.1 0 0 423.8z"/>
<path fill="#60ff9f" d="M960.1 1100.8l168.6 0 11.6 -5.3 9.8 -5.4 8.3 -5.3 7.3 -5.3 6.3 -5.4 8.1 -8 6.8 -7.9 5.8 -8 6.6 -10.7 5.4 -10.7 5.7 -13.3 4.7 -13.3 4.7 -16 3.9 -16 3.8 -18.7 3.6 -21.3 3.2 -24 2.8 -24 2.5 -26.6 2.3 -29.3 4 -66.7 3.4 -82.6 -289.2 0 0 423.8z"/>
<path fill="#70ff8f" d="M960.1 1100.8l161.1 0 11.3 -5.3 9.5 -5.4 8.1 -5.3 7.1 -5.3 6.1 -5.4 7.9 -8 6.6 -7.9 5.7 -8 6.3 -10.7 5.3 -10.7 5.6 -13.3 4.6 -13.3 4.5 -16 3.8 -16 3.7 -18.7 3.5 -21.3 3.2 -24 2.6 -24 2.5 -26.6 2.2 -29.3 3.9 -66.7 3.3 -82.6 -278.4 0 0 423.8z"/>
<path fill="#80ff80" d="M960.1 1100.8l153.8 0 10.9 -5.3 9.3 -5.4 7.9 -5.3 6.8 -5.3 6 -5.4 7.7 -8 6.4 -7.9 5.5 -8 6.2 -10.7 5.1 -10.7 5.4 -13.3 4.5 -13.3 4.4 -16 3.7 -16 3.6 -18.7 3.4 -21.3 3.1 -24 2.5 -24 2.4 -26.6 2.2 -29.3 3.9 -69.3 3.1 -80 -267.8 0 0 423.8z"/>
<path fill="#8fff70" d="M960.1 1100.8l146.5 0 10.7 -5.3 9 -5.4 7.7 -5.3 6.6 -5.3 5.8 -5.4 7.5 -8 6.2 -7.9 5.4 -8 6 -10.7 5 -10.7 5.2 -13.3 4.4 -13.3 4.3 -16 3.6 -16 3.4 -18.7 3.3 -21.3 3.1 -24 2.5 -24 2.3 -26.6 2.1 -29.3 3.6 -66.7 3.2 -82.6 -257.4 0 0 423.8z"/>
<path fill="#9fff60" d="M960.1 1100.8l139.4 0 10.4 -5.3 8.7 -5.4 7.5 -5.3 6.4 -5.3 5.7 -5.4 7.2 -8 6.1 -7.9 6.8 -10.7 5.6 -10.7 4.6 -10.6 4.9 -13.4 4.1 -13.3 4 -16 3.4 -16 3.3 -18.6 3.1 -21.4 2.6 -21.3 2.4 -24 4.4 -55.9 3.5 -66.7 3 -82.6 -247.1 0 0 423.8z"/>
<path fill="#afff50" d="M960.1 1100.8l132.4 0 10.1 -5.3 8.5 -5.4 7.2 -5.3 6.3 -5.3 5.5 -5.4 7 -8 6 -7.9 6.5 -10.7 5.4 -10.7 4.6 -10.6 4.7 -13.4 4 -13.3 3.9 -16 3.3 -16 3.2 -18.6 3 -21.4 2.8 -23.9 2.3 -24 4.1 -56 3.5 -66.6 2.8 -80 -237.1 0 0 423.8z"/>
<path fill="#bfff40" d="M960.1 1100.8l125.6 0 9.7 -5.3 8.3 -5.4 7 -5.3 6.1 -5.3 7.8 -8 6.4 -8 5.4 -8 4.7 -8 5.3 -10.7 4.4 -10.6 4.6 -13.4 3.8 -13.3 3.9 -16 3.1 -16 3.2 -18.6 2.9 -21.4 2.4 -21.3 2.3 -24 4.1 -55.9 3.4 -69.3 2.8 -80 -227.2 0 0 423.8z"/>
<path fill="#cfff30" d="M960.1 1100.8l118.8 0 9.5 -5.3 8 -5.4 6.8 -5.3 8.6 -8 7.1 -8 5.9 -8 5 -8 4.3 -8 4.9 -10.6 4.1 -10.7 4.3 -13.3 3.6 -13.4 3.6 -15.9 3 -16 2.9 -18.7 2.8 -21.3 4.5 -45.3 3.9 -56 3.2 -66.6 2.7 -80 -217.5 0 0 423.8z"/>
<path fill="#dfff20" d="M960.1 1100.8l112.2 0 9.2 -5.3 7.7 -5.4 6.7 -5.3 8.3 -8 6.9 -8 5.7 -8 4.9 -8 4.1 -8 4.8 -10.6 4.9 -13.4 4 -13.3 3.4 -13.3 3.3 -16 2.9 -16 2.8 -18.7 2.3 -18.6 4.4 -45.3 3.7 -56 3.1 -66.6 2.6 -80 -207.9 0 0 423.8z"/>
<path fill="#efff10" d="M960.1 1100.8l105.7 0 8.9 -5.3 7.5 -5.4 6.4 -5.3 8.1 -8 6.7 -8 5.5 -8 4.7 -8 4.1 -8 4.6 -10.6 4.7 -13.4 3.9 -13.3 3.3 -13.3 3.3 -16 2.8 -16 2.6 -18.7 2.3 -18.6 4.2 -45.3 3.7 -56 3 -66.6 2.5 -80 -198.5 0 0 423.8z"/>
<path fill="#ffff00" d="M960.1 1100.8l99.2 0 8.7 -5.3 7.3 -5.4 6.2 -5.3 7.9 -8 6.4 -8 5.4 -8 4.6 -8 5.1 -10.6 4.2 -10.7 4.5 -13.3 3.6 -13.4 3.1 -13.3 3.1 -16 2.6 -16 4.7 -37.3 4 -45.3 3.5 -56 2.8 -66.6 2.4 -77.3 -189.3 0 0 423.8z"/>
<path fill="#ffef00" d="M960.1 1100.8l92.9 0 8.4 -5.3 7.1 -5.4 6 -5.3 7.6 -8 6.3 -8 5.2 -8 4.4 -8 5 -10.6 4.1 -10.7 4.3 -13.3 3.5 -13.4 3 -13.3 3 -16 2.5 -16 4.6 -37.3 3.9 -45.3 3.3 -56 2.7 -63.9 2.4 -80 -180.2 0 0 423.8z"/>
<path fill="#ffdf00" d="M960.1 1100.8l86.7 0 8.1 -5.3 6.9 -5.4 5.8 -5.3 7.4 -8 6 -8 5.1 -8 4.3 -8 4.8 -10.6 4 -10.7 3.4 -10.7 3.5 -13.3 3 -13.3 3 -16 2.5 -16 2.5 -18.7 2.3 -21.3 3.8 -45.3 3.2 -56 2.7 -63.9 2.3 -80 -171.3 0 0 423.8z"/>
<path fill="#ffcf00" d="M960.1 1100.8l80.6 0 7.8 -5.3 6.7 -5.4 5.7 -5.3 7.1 -8 5.8 -8 4.9 -8 5.4 -10.6 4.5 -10.7 3.7 -10.7 3.9 -13.3 3.2 -13.3 2.7 -13.3 2.7 -16 2.3 -16 4.1 -37.3 3.6 -45.4 3 -53.3 2.6 -66.6 2.2 -77.3 -162.5 0 0 423.8z"/>
<path fill="#ffbf00" d="M960.1 1100.8l74.6 0 7.6 -5.3 6.4 -5.4 5.5 -5.3 6.9 -8 5.6 -8 4.8 -8 5.2 -10.6 4.3 -10.7 3.6 -10.7 3.7 -13.3 3.1 -13.3 2.7 -13.3 2.6 -16 2.2 -16 4 -37.3 3.5 -45.4 2.9 -53.3 2.4 -63.9 2.2 -80 -153.8 0 0 423.8z"/>
<path fill="#ffaf00" d="M960.1 1100.8l68.6 0 7.4 -5.3 9 -8 4.9 -5.4 6.2 -8 5.2 -8 4.3 -7.9 4.8 -10.7 4 -10.7 3.3 -10.6 3.5 -13.4 2.9 -13.3 2.4 -13.3 4.6 -32 3.8 -37.3 3.3 -45.3 2.7 -53.3 2.4 -64 2 -77.3 -145.3 0 0 423.8z"/>
<path fill="#ff9f00" d="M960.1 1100.8l62.8 0 7.1 -5.3 8.7 -8 4.8 -5.4 6 -8 5 -8 4.2 -7.9 4.6 -10.7 3.8 -10.7 3.3 -10.6 3.3 -13.4 2.8 -13.3 2.4 -13.3 4.4 -32 3.7 -37.3 3.1 -45.3 2.7 -53.3 2.2 -64 2 -77.3 -136.9 0 0 423.8z"/>
<path fill="#ff8f00" d="M960.1 1100.8l57.1 0 6.8 -5.3 8.4 -8 4.6 -5.4 5.8 -8 4.9 -8 5.2 -10.6 4.3 -10.7 3.5 -10.6 3 -10.7 3.1 -13.3 4.8 -26.7 4.2 -32 3.4 -37.3 3.1 -45.3 2.5 -53.3 2.1 -64 1.8 -74.6 -128.6 0 0 423.8z"/>
<path fill="#ff8000" d="M960.1 1100.8l51.4 0 6.6 -5.3 8.1 -8 4.5 -5.4 5.6 -8 4.6 -8 5.1 -10.6 4.1 -10.7 4.2 -13.3 2.8 -10.7 2.9 -13.3 4.5 -26.6 3.9 -32 3.2 -37.3 2.9 -45.4 2.4 -53.3 2 -61.3 1.7 -74.6 -120.5 0 0 423.8z"/>
<path fill="#ff7000" d="M960.1 1100.8l45.8 0 3.4 -2.7 5.9 -5.3 7.2 -8 5.8 -8 4.7 -8 4 -8 4.4 -10.6 3.6 -10.7 3 -10.7 2.6 -10.6 2.7 -13.4 4.2 -26.6 3.7 -32 3 -37.3 2.7 -45.3 2.2 -50.7 1.9 -61.3 1.7 -74.6 -112.5 0 0 423.8z"/>
<path fill="#ff6000" d="M960.1 1100.8l40.4 0 3.2 -2.7 5.6 -5.3 7 -8 5.6 -8 4.6 -8 3.8 -8 4.3 -10.6 3.4 -10.7 2.9 -10.7 2.5 -10.6 2.6 -13.4 4.1 -26.6 3.5 -32 3 -37.3 2.5 -45.3 2.2 -53.3 1.8 -61.3 1.6 -72 -104.6 0 0 423.8z"/>
<path fill="#ff5000" d="M960.1 1100.8l35 0 5.9 -5.3 5 -5.4 6.2 -8 5.1 -8 4.1 -8 3.5 -7.9 3.9 -10.7 3.2 -10.7 2.7 -10.6 4.7 -24 3.8 -26.7 3.3 -32 2.8 -37.3 2.3 -42.6 2.1 -53.3 1.7 -61.3 1.5 -72 -96.8 0 0 423.8z"/>
<path fill="#ff4000" d="M960.1 1100.8l29.6 0 8.3 -8 4.4 -5.3 5.6 -8 4.5 -8 3.8 -8 3.2 -8 3.5 -10.7 3 -10.6 2.4 -10.7 4.4 -24 3.5 -26.6 3.1 -32 2.6 -37.3 2.4 -45.4 1.8 -50.6 1.7 -61.3 1.4 -69.3 -89.2 0 0 423.8z"/>
<path fill="#ff3000" d="M960.1 1100.8l24.4 0 5.5 -5.3 6.7 -8 3.7 -5.4 4.6 -8 3.9 -8 3.2 -7.9 2.8 -8 3.1 -10.7 4.8 -21.3 3.9 -24 3.2 -26.7 2.8 -32 2.4 -37.3 2 -42.6 1.8 -50.7 1.5 -58.6 1.3 -69.3 -81.6 0 0 423.8z"/>
<path fill="#ff2000" d="M960.1 1100.8l19.2 0 7.6 -8 6 -8 3.3 -5.3 4.2 -8 3.4 -8 3 -8 2.5 -8 2.9 -10.7 4.4 -21.3 3.6 -24 3 -26.6 2.6 -32 2.3 -37.3 1.9 -42.7 1.7 -50.6 2.6 -125.3 -74.2 0 0 423.8z"/>
<path fill="#ff1000" d="M960.1 1100.8l14.2 0 5 -5.3 4.3 -5.4 3.6 -5.3 3.2 -5.3 2.8 -5.4 3.5 -8 3 -7.9 2.5 -8 4.7 -18.7 3.9 -21.3 3.3 -24 2.7 -26.7 2.4 -32 2.1 -37.3 1.7 -42.6 1.5 -48 2.5 -122.6 -66.9 0 0 423.8z"/>
<path fill="#ff0000" d="M960.1 1100.8l9.1 0 4.9 -5.3 5.9 -8 3.3 -5.4 4.1 -8 5.3 -13.3 4.8 -16 4.1 -18.6 3.5 -21.4 2.9 -23.9 2.4 -26.7 2.2 -32 1.8 -34.6 1.7 -42.7 1.4 -48 2.3 -119.9 -59.7 0 0 423.8z"/>
<path fill="#ef0000" d="M960.1 1100.8l4.2 0 6.7 -8 3.6 -5.3 3.1 -5.4 2.7 -5.3 3.5 -8 4.6 -13.3 4.1 -16 3.6 -18.7 3.1 -21.3 2.6 -24 2.2 -26.6 2 -32 1.6 -34.7 2.8 -87.9 2.1 -117.3 -52.5 0 0 423.8z"/>
<path fill="#df0000" d="M960.1 1098.1l0 1.9 1.6 -1.9 4.1 -5.3 5 -8 5.2 -10.7 4.9 -13.3 3.7 -13.3 3.5 -16 3 -18.7 2.7 -21.3 2.3 -24 1.9 -26.6 1.8 -32 1.5 -34.7 2.4 -85.3 1.9 -111.9 -45.5 0 0 421.1z"/>
<path fill="#cf0000" d="M960.1 1092.8l0 0.9 3.9 -6.2 5.3 -10.7 4.1 -10.7 4 -13.3 3 -13.3 2.9 -16 2.6 -18.7 2.3 -21.3 2 -24 1.7 -26.6 2.8 -64 2.3 -82.6 1.7 -109.3 -38.6 0 0 415.8z"/>
<path fill="#bf0000" d="M960.1 1084.8l3.8 -8 3.9 -10.7 3.1 -10.6 3.1 -13.3 2.8 -16 2.3 -16 2 -18.7 1.9 -21.3 3.1 -50.6 2.4 -61.4 1.9 -79.9 1.5 -101.3 -31.8 0 0 407.8z"/>
<path fill="#af0000" d="M960.1 1071.5l0 1.2 2.2 -6.6 3.5 -13.3 2.8 -13.3 2.2 -13.3 2.2 -16 1.7 -16 3.1 -40 2.4 -48 2.1 -61.3 1.6 -74.6 1.3 -93.3 -25.1 0 0 394.5z"/>
<path fill="#9f0000" d="M960.1 1052.8l1.8 -8 2.2 -13.3 3.4 -26.7 2.8 -31.9 2.4 -40 1.9 -48 1.6 -56 1.3 -69.3 1.1 -82.6 -18.5 0 0 375.8z"/>
<path fill="#8f0000" d="M960.1 1018.2l2.3 -21.4 2.2 -29.3 1.8 -32 1.5 -37.3 2.4 -93.3 1.7 -127.9 -11.9 0 0 341.2z"/>
<path fill="#800000" d="M960.1 938.2l1.8 -48 1.5 -58.6 1.2 -69.3 1 -85.3 -5.5 0 0 261.2z"/>
<path d="M1025.4 1101.5v-5 M1025.4 677.2v5M1156 1101.5v-5 M1156 677.2v5M1286.7 1101.5v-5 M1286.7 677.2v5M960.1 1062.3h5 M1417.3 1062.3h-5M960.1 985.2h5 M1417.3 985.2h-5M960.1 908.2h5 M1417.3 908.2h-5M960.1 831.1h5 M1417.3 831.1h-5M960.1 754.1h5 M1417.3 754.1h-5" stroke="#000" stroke-width="3.8" fill="none"/>
<rect x="960.1" y="677.2" width="457.2" height="424.3" fill="none" stroke="#000" stroke-width="4.2"/>
<text x="1025.4" y="1128.2" font-size="40.9" text-anchor="middle" transform="scale(1 1.015)">40</text>
<text x="1156" y="1128.2" font-size="40.9" text-anchor="middle" transform="scale(1 1.015)">60</text>
<text x="1286.7" y="1128.2" font-size="40.9" text-anchor="middle" transform="scale(1 1.015)">80</text>
<text x="1417.3" y="1128.2" font-size="40.9" text-anchor="middle" transform="scale(1 1.015)">100</text>
<text x="953" y="1060.9" font-size="40.9" text-anchor="end" transform="scale(1 1.015)">1</text>
<text x="953" y="984.9" font-size="40.9" text-anchor="end" transform="scale(1 1.015)">2</text>
<text x="953" y="909" font-size="40.9" text-anchor="end" transform="scale(1 1.015)">3</text>
<text x="953" y="833.1" font-size="40.9" text-anchor="end" transform="scale(1 1.015)">4</text>
<text x="953" y="757.2" font-size="40.9" text-anchor="end" transform="scale(1 1.015)">5</text>
<text x="953" y="681.3" font-size="40.9" text-anchor="end" transform="scale(1 1.015)">6</text>
<rect x="1451" y="676.8" width="46.2" height="424.9" fill="url(#jet)"/>
<rect x="1451.3" y="677.1" width="45.6" height="424.3" fill="none" stroke="#200" stroke-opacity=".7" stroke-width="1"/>
<path d="M1451 1059.4h4 M1497.2 1059.4h-4M1451 974.9h4 M1497.2 974.9h-4M1451 890.3h4 M1497.2 890.3h-4M1451 805.7h4 M1497.2 805.7h-4M1451 721.2h4 M1497.2 721.2h-4" stroke="#000" stroke-opacity=".8" stroke-width="1.2" fill="none"/>
<text x="1503.3" y="1058.1" font-size="40.9" text-anchor="start" transform="scale(1 1.015)">0.14</text>
<text x="1503.3" y="974.7" font-size="40.9" text-anchor="start" transform="scale(1 1.015)">0.16</text>
<text x="1503.3" y="891.4" font-size="40.9" text-anchor="start" transform="scale(1 1.015)">0.18</text>
<text x="1503.3" y="808.1" font-size="40.9" text-anchor="start" transform="scale(1 1.015)">0.2</text>
<text x="1503.3" y="724.8" font-size="40.9" text-anchor="start" transform="scale(1 1.015)">0.22</text>
<text transform="scale(1 1.015)" x="637.4" y="43.7" font-size="40.9">I<tspan font-size="32.5" dy="19.7">det</tspan><tspan dy="-19.7">/I</tspan><tspan font-size="32.5" dy="19.7">inj</tspan></text>
<text transform="scale(1 1.015)" x="1437.2" y="40.7" font-size="40.9">I<tspan font-size="32.5" dy="19.7">det</tspan><tspan dy="-19.7">/I</tspan><tspan font-size="32.5" dy="19.7">inj</tspan></text>
<text transform="scale(1 1.015)" x="639.7" y="618.4" font-size="40.9">I<tspan font-size="32.5" dy="19.7">det</tspan><tspan dy="-19.7">/I</tspan><tspan font-size="32.5" dy="19.7">inj</tspan></text>
<text transform="scale(1 1.015)" x="1442.6" y="618.4" font-size="40.9">I<tspan font-size="32.5" dy="19.7">det</tspan><tspan dy="-19.7">/I</tspan><tspan font-size="32.5" dy="19.7">inj</tspan></text>
<text x="9.4" y="40.2" font-size="45.6" text-anchor="start" transform="scale(1 1.015)">(a)</text>
<text x="802.9" y="36.9" font-size="45.6" text-anchor="start" transform="scale(1 1.015)">(b)</text>
<text x="10.1" y="606.4" font-size="45.6" text-anchor="start" transform="scale(1 1.015)">(c)</text>
<text x="810.5" y="606.2" font-size="45.6" text-anchor="start" transform="scale(1 1.015)">(d)</text>
<text x="392.5" y="584.1" font-size="40.9" text-anchor="middle" transform="scale(1 1.015)">Contact Resistivity</text>
<text x="279.6" y="621.3" font-size="40.9" text-anchor="start" transform="scale(1 1.015)">R<tspan font-size="32.5" dy="19.7">1</tspan><tspan dy="-19.7">W(<tspan stroke="#000" stroke-width="0.7">Ω</tspan> µm)</tspan></text>
<text x="33.4" y="303.4" font-size="40.9" text-anchor="middle" transform="scale(1 1.015) rotate(-90 33.4 303.4)">Contact Resistivity</text>
<text x="70.5" y="415.3" font-size="40.9" text-anchor="start" transform="scale(1 1.015) rotate(-90 70.5 415.3)">R<tspan font-size="32.5" dy="19.7">2</tspan><tspan dy="-19.7">W(<tspan stroke="#000" stroke-width="0.7">Ω</tspan> µm)</tspan></text>
<text x="838.8" y="266.5" font-size="40.9" text-anchor="middle" transform="scale(1 1.015) rotate(-90 838.8 266.5)">Spin Detection Efficiency</text>
<text x="874.3" y="282.3" font-size="40.9" text-anchor="start" transform="scale(1 1.015) rotate(-90 874.3 282.3)">P<tspan font-size="32.5" dy="19.7">2</tspan></text>
<text x="1207.5" y="586.1" font-size="40.9" text-anchor="middle" transform="scale(1 1.015)">Spin Injection Efficiency</text>
<text x="1183.2" y="622.7" font-size="40.9" text-anchor="start" transform="scale(1 1.015)">P<tspan font-size="32.5" dy="19.7">1</tspan></text>
<text x="63.7" y="900.8" font-size="40.9" text-anchor="middle" transform="scale(1 1.015) rotate(-90 63.7 900.8)" letter-spacing="-0.4">Aspect Ratio</text>
<text x="109" y="887" font-size="40.9" text-anchor="middle" transform="scale(1 1.015) rotate(-90 109 887)">L/W</text>
<text x="399.2" y="1165.5" font-size="40.9" text-anchor="middle" transform="scale(1 1.015)" word-spacing="2.2">Channel Width W(nm)</text>
<text x="857.7" y="901.1" font-size="40.9" text-anchor="middle" transform="scale(1 1.015) rotate(-90 857.7 901.1)" letter-spacing="-0.32">Spin Diffusion Length</text>
<text x="893.5" y="956.7" font-size="40.9" text-anchor="start" transform="scale(1 1.015) rotate(-90 893.5 956.7)">λ<tspan font-size="32.5" dy="19.7">G</tspan><tspan dy="-19.7"> (µm)</tspan></text>
<text x="1188.5" y="1165.5" font-size="40.9" text-anchor="middle" transform="scale(1 1.015)" xml:space="preserve" style="white-space:pre">Channel Length  L(nm)</text>
</svg>
</body></html>
